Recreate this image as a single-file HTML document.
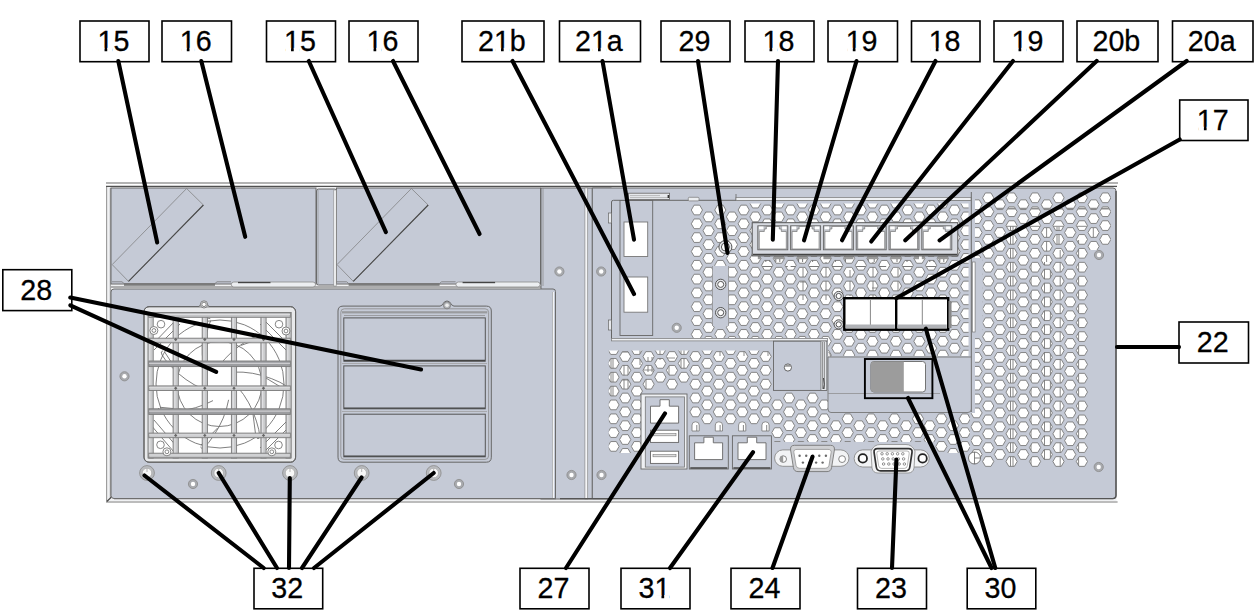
<!DOCTYPE html><html><head><meta charset="utf-8"><style>html,body{margin:0;padding:0;background:#fff;width:1254px;height:610px;overflow:hidden}svg{display:block}text{font-family:"Liberation Sans",sans-serif;font-size:30px;fill:#000;stroke:#000;stroke-width:0.3px}</style></head><body>
<svg width="1254" height="610" viewBox="0 0 1254 610">
<defs>
<clipPath id="cA"><path d="M689,203.6 H968.5 V356 H828 V338 H689 Z"/></clipPath>
<clipPath id="cB"><path d="M608.7,350.4 H828 V413 H970 V453 H935 V442 H690 V453 H608.7 Z"/></clipPath>
<clipPath id="cC"><path d="M975,191 H1111 V250 H1089 V472 H970.5 V413 H975 V335 H982.6 V258 H975 Z"/></clipPath>
</defs>
<line x1="106" y1="183.1" x2="1118" y2="183.1" stroke="#9a9a9a" stroke-width="1.5"/>
<rect x="106.5" y="186.5" width="1010" height="314.5" fill="#f0f1f3"/>
<path d="M106.6,186 V502" stroke="#9a9a9a" stroke-width="1.1"/>
<path d="M110.3,188 V498" stroke="#8a8a8a" stroke-width="0.9"/>
<path d="M106,502 H1117.6" stroke="#a6a6a6" stroke-width="1.5"/>
<path d="M106,186.4 H1117" stroke="#505050" stroke-width="1.2"/>
<path d="M106.8,501.5 L111.5,497" stroke="#444" stroke-width="1.1"/>
<rect x="111" y="188" width="205" height="96" fill="#c5cad6" stroke="#6a6a6a" stroke-width="1"/>
<rect x="336.5" y="188" width="204" height="96" fill="#c5cad6" stroke="#6a6a6a" stroke-width="1"/>
<rect x="316.5" y="189" width="20" height="96" rx="2" fill="#c5cad6" stroke="#6a6a6a" stroke-width="1"/>
<rect x="333.8" y="190" width="2.4" height="96" fill="#f4f5f7" stroke="#8a8a8a" stroke-width="0.6"/>
<path d="M318,190 V284" stroke="#8a8a8a" stroke-width="0.6"/>
<polygon points="186.6,188.5 203.4,205.0 128.5,281.4 112.2,264.6" fill="none" stroke="#7a7a7a" stroke-width="0.7"/>
<line x1="203.4" y1="205.0" x2="128.5" y2="281.4" stroke="#4a4a4a" stroke-width="1.1"/>
<polygon points="411.4,188.5 428.2,205.0 353.3,281.4 337.0,264.6" fill="none" stroke="#7a7a7a" stroke-width="0.7"/>
<line x1="428.2" y1="205.0" x2="353.3" y2="281.4" stroke="#4a4a4a" stroke-width="1.1"/>
<path d="M111,287 H541" stroke="#6a6a6a" stroke-width="1.2"/>
<path d="M112.0,281.8 H122.0 L124.0,283.5 H215.0 L217.0,281.8 H231.0" fill="none" stroke="#777" stroke-width="0.8"/>
<rect x="124.0" y="283.4" width="91" height="2.4" fill="#7a7a7a"/>
<rect x="231.3" y="282" width="84.2" height="5" rx="2.5" fill="#eceef1" stroke="#8a8a8a" stroke-width="0.8"/>
<rect x="238.0" y="281.9" width="32.5" height="1.3" fill="#444"/>
<path d="M336.6,281.8 H346.6 L348.6,283.5 H439.6 L441.6,281.8 H455.6" fill="none" stroke="#777" stroke-width="0.8"/>
<rect x="348.6" y="283.4" width="91" height="2.4" fill="#7a7a7a"/>
<rect x="455.9" y="282" width="84.2" height="5" rx="2.5" fill="#eceef1" stroke="#8a8a8a" stroke-width="0.8"/>
<rect x="462.6" y="281.9" width="32.5" height="1.3" fill="#444"/>
<rect x="541" y="188" width="70" height="311" fill="#c5cad6" stroke="#6a6a6a" stroke-width="1"/>
<rect x="584.9" y="188" width="2.8" height="311" fill="#f4f5f7" stroke="#8a8a8a" stroke-width="0.7"/>
<line x1="592.3" y1="188" x2="592.3" y2="499" stroke="#777" stroke-width="0.8"/>
<line x1="543" y1="188" x2="543" y2="286" stroke="#888" stroke-width="0.7"/>
<path d="M111,292 Q111,289 114,289 H553 Q555.5,289 555.5,291.5 V498.5 H114 Q111,498.5 111,495.5 Z" fill="#c5cad6" stroke="#6a6a6a" stroke-width="1"/>
<line x1="553.3" y1="292" x2="553.3" y2="498" stroke="#fff" stroke-width="1.2"/>
<line x1="552.6" y1="292" x2="552.6" y2="498" stroke="#999" stroke-width="0.6"/>
<path d="M592.3,188 H1113 Q1116,188 1116,191 V495.5 Q1116,498.6 1113,498.6 H592.3 Z" fill="#c5cad6" stroke="#6a6a6a" stroke-width="1"/>
<path d="M1116,191 V495.5 Q1116,498.6 1113,498.6 H560" fill="none" stroke="#555" stroke-width="1.4"/>
<path d="M114,498.6 H556" stroke="#6e6e6e" stroke-width="1.3"/>
<g clip-path="url(#cA)"><path id="hA" d="M691.3,196.2l2.80,-4.85h5.60l2.80,4.85l-2.80,4.85h-5.60zM691.3,210.0l2.80,-4.85h5.60l2.80,4.85l-2.80,4.85h-5.60zM691.3,223.8l2.80,-4.85h5.60l2.80,4.85l-2.80,4.85h-5.60zM691.3,237.6l2.80,-4.85h5.60l2.80,4.85l-2.80,4.85h-5.60zM691.3,251.5l2.80,-4.85h5.60l2.80,4.85l-2.80,4.85h-5.60zM691.3,265.3l2.80,-4.85h5.60l2.80,4.85l-2.80,4.85h-5.60zM691.3,279.1l2.80,-4.85h5.60l2.80,4.85l-2.80,4.85h-5.60zM691.3,292.9l2.80,-4.85h5.60l2.80,4.85l-2.80,4.85h-5.60zM691.3,306.7l2.80,-4.85h5.60l2.80,4.85l-2.80,4.85h-5.60zM691.3,320.6l2.80,-4.85h5.60l2.80,4.85l-2.80,4.85h-5.60zM691.3,334.4l2.80,-4.85h5.60l2.80,4.85l-2.80,4.85h-5.60zM691.3,348.2l2.80,-4.85h5.60l2.80,4.85l-2.80,4.85h-5.60zM691.3,362.0l2.80,-4.85h5.60l2.80,4.85l-2.80,4.85h-5.60zM703.0,216.9l2.80,-4.85h5.60l2.80,4.85l-2.80,4.85h-5.60zM703.0,230.7l2.80,-4.85h5.60l2.80,4.85l-2.80,4.85h-5.60zM703.0,244.6l2.80,-4.85h5.60l2.80,4.85l-2.80,4.85h-5.60zM703.0,258.4l2.80,-4.85h5.60l2.80,4.85l-2.80,4.85h-5.60zM703.0,272.2l2.80,-4.85h5.60l2.80,4.85l-2.80,4.85h-5.60zM703.0,286.0l2.80,-4.85h5.60l2.80,4.85l-2.80,4.85h-5.60zM703.0,299.8l2.80,-4.85h5.60l2.80,4.85l-2.80,4.85h-5.60zM703.0,313.7l2.80,-4.85h5.60l2.80,4.85l-2.80,4.85h-5.60zM703.0,327.5l2.80,-4.85h5.60l2.80,4.85l-2.80,4.85h-5.60zM703.0,341.3l2.80,-4.85h5.60l2.80,4.85l-2.80,4.85h-5.60zM703.0,355.1l2.80,-4.85h5.60l2.80,4.85l-2.80,4.85h-5.60zM714.7,196.2l2.80,-4.85h5.60l2.80,4.85l-2.80,4.85h-5.60zM714.7,210.0l2.80,-4.85h5.60l2.80,4.85l-2.80,4.85h-5.60zM714.7,223.8l2.80,-4.85h5.60l2.80,4.85l-2.80,4.85h-5.60zM714.7,237.6l2.80,-4.85h5.60l2.80,4.85l-2.80,4.85h-5.60zM714.7,251.5l2.80,-4.85h5.60l2.80,4.85l-2.80,4.85h-5.60zM714.7,265.3l2.80,-4.85h5.60l2.80,4.85l-2.80,4.85h-5.60zM714.7,320.6l2.80,-4.85h5.60l2.80,4.85l-2.80,4.85h-5.60zM714.7,334.4l2.80,-4.85h5.60l2.80,4.85l-2.80,4.85h-5.60zM714.7,348.2l2.80,-4.85h5.60l2.80,4.85l-2.80,4.85h-5.60zM714.7,362.0l2.80,-4.85h5.60l2.80,4.85l-2.80,4.85h-5.60zM726.4,216.9l2.80,-4.85h5.60l2.80,4.85l-2.80,4.85h-5.60zM726.4,230.7l2.80,-4.85h5.60l2.80,4.85l-2.80,4.85h-5.60zM726.4,244.6l2.80,-4.85h5.60l2.80,4.85l-2.80,4.85h-5.60zM726.4,258.4l2.80,-4.85h5.60l2.80,4.85l-2.80,4.85h-5.60zM726.4,272.2l2.80,-4.85h5.60l2.80,4.85l-2.80,4.85h-5.60zM726.4,286.0l2.80,-4.85h5.60l2.80,4.85l-2.80,4.85h-5.60zM726.4,299.8l2.80,-4.85h5.60l2.80,4.85l-2.80,4.85h-5.60zM726.4,313.7l2.80,-4.85h5.60l2.80,4.85l-2.80,4.85h-5.60zM726.4,327.5l2.80,-4.85h5.60l2.80,4.85l-2.80,4.85h-5.60zM726.4,341.3l2.80,-4.85h5.60l2.80,4.85l-2.80,4.85h-5.60zM726.4,355.1l2.80,-4.85h5.60l2.80,4.85l-2.80,4.85h-5.60zM738.1,196.2l2.80,-4.85h5.60l2.80,4.85l-2.80,4.85h-5.60zM738.1,210.0l2.80,-4.85h5.60l2.80,4.85l-2.80,4.85h-5.60zM738.1,223.8l2.80,-4.85h5.60l2.80,4.85l-2.80,4.85h-5.60zM738.1,237.6l2.80,-4.85h5.60l2.80,4.85l-2.80,4.85h-5.60zM738.1,251.5l2.80,-4.85h5.60l2.80,4.85l-2.80,4.85h-5.60zM738.1,265.3l2.80,-4.85h5.60l2.80,4.85l-2.80,4.85h-5.60zM738.1,279.1l2.80,-4.85h5.60l2.80,4.85l-2.80,4.85h-5.60zM738.1,292.9l2.80,-4.85h5.60l2.80,4.85l-2.80,4.85h-5.60zM738.1,306.7l2.80,-4.85h5.60l2.80,4.85l-2.80,4.85h-5.60zM738.1,320.6l2.80,-4.85h5.60l2.80,4.85l-2.80,4.85h-5.60zM738.1,334.4l2.80,-4.85h5.60l2.80,4.85l-2.80,4.85h-5.60zM738.1,348.2l2.80,-4.85h5.60l2.80,4.85l-2.80,4.85h-5.60zM738.1,362.0l2.80,-4.85h5.60l2.80,4.85l-2.80,4.85h-5.60zM749.8,189.3l2.80,-4.85h5.60l2.80,4.85l-2.80,4.85h-5.60zM749.8,203.1l2.80,-4.85h5.60l2.80,4.85l-2.80,4.85h-5.60zM749.8,216.9l2.80,-4.85h5.60l2.80,4.85l-2.80,4.85h-5.60zM749.8,230.7l2.80,-4.85h5.60l2.80,4.85l-2.80,4.85h-5.60zM749.8,244.6l2.80,-4.85h5.60l2.80,4.85l-2.80,4.85h-5.60zM749.8,258.4l2.80,-4.85h5.60l2.80,4.85l-2.80,4.85h-5.60zM749.8,272.2l2.80,-4.85h5.60l2.80,4.85l-2.80,4.85h-5.60zM749.8,286.0l2.80,-4.85h5.60l2.80,4.85l-2.80,4.85h-5.60zM749.8,299.8l2.80,-4.85h5.60l2.80,4.85l-2.80,4.85h-5.60zM749.8,313.7l2.80,-4.85h5.60l2.80,4.85l-2.80,4.85h-5.60zM749.8,327.5l2.80,-4.85h5.60l2.80,4.85l-2.80,4.85h-5.60zM749.8,341.3l2.80,-4.85h5.60l2.80,4.85l-2.80,4.85h-5.60zM749.8,355.1l2.80,-4.85h5.60l2.80,4.85l-2.80,4.85h-5.60zM761.6,196.2l2.80,-4.85h5.60l2.80,4.85l-2.80,4.85h-5.60zM761.6,210.0l2.80,-4.85h5.60l2.80,4.85l-2.80,4.85h-5.60zM761.6,223.8l2.80,-4.85h5.60l2.80,4.85l-2.80,4.85h-5.60zM761.6,237.6l2.80,-4.85h5.60l2.80,4.85l-2.80,4.85h-5.60zM761.6,251.5l2.80,-4.85h5.60l2.80,4.85l-2.80,4.85h-5.60zM761.6,265.3l2.80,-4.85h5.60l2.80,4.85l-2.80,4.85h-5.60zM761.6,279.1l2.80,-4.85h5.60l2.80,4.85l-2.80,4.85h-5.60zM761.6,292.9l2.80,-4.85h5.60l2.80,4.85l-2.80,4.85h-5.60zM761.6,306.7l2.80,-4.85h5.60l2.80,4.85l-2.80,4.85h-5.60zM761.6,320.6l2.80,-4.85h5.60l2.80,4.85l-2.80,4.85h-5.60zM761.6,334.4l2.80,-4.85h5.60l2.80,4.85l-2.80,4.85h-5.60zM761.6,348.2l2.80,-4.85h5.60l2.80,4.85l-2.80,4.85h-5.60zM761.6,362.0l2.80,-4.85h5.60l2.80,4.85l-2.80,4.85h-5.60zM773.3,189.3l2.80,-4.85h5.60l2.80,4.85l-2.80,4.85h-5.60zM773.3,203.1l2.80,-4.85h5.60l2.80,4.85l-2.80,4.85h-5.60zM773.3,216.9l2.80,-4.85h5.60l2.80,4.85l-2.80,4.85h-5.60zM773.3,230.7l2.80,-4.85h5.60l2.80,4.85l-2.80,4.85h-5.60zM773.3,244.6l2.80,-4.85h5.60l2.80,4.85l-2.80,4.85h-5.60zM773.3,258.4l2.80,-4.85h5.60l2.80,4.85l-2.80,4.85h-5.60zM773.3,272.2l2.80,-4.85h5.60l2.80,4.85l-2.80,4.85h-5.60zM773.3,286.0l2.80,-4.85h5.60l2.80,4.85l-2.80,4.85h-5.60zM773.3,299.8l2.80,-4.85h5.60l2.80,4.85l-2.80,4.85h-5.60zM773.3,313.7l2.80,-4.85h5.60l2.80,4.85l-2.80,4.85h-5.60zM773.3,327.5l2.80,-4.85h5.60l2.80,4.85l-2.80,4.85h-5.60zM773.3,341.3l2.80,-4.85h5.60l2.80,4.85l-2.80,4.85h-5.60zM773.3,355.1l2.80,-4.85h5.60l2.80,4.85l-2.80,4.85h-5.60zM785.0,196.2l2.80,-4.85h5.60l2.80,4.85l-2.80,4.85h-5.60zM785.0,210.0l2.80,-4.85h5.60l2.80,4.85l-2.80,4.85h-5.60zM785.0,223.8l2.80,-4.85h5.60l2.80,4.85l-2.80,4.85h-5.60zM785.0,237.6l2.80,-4.85h5.60l2.80,4.85l-2.80,4.85h-5.60zM785.0,251.5l2.80,-4.85h5.60l2.80,4.85l-2.80,4.85h-5.60zM785.0,265.3l2.80,-4.85h5.60l2.80,4.85l-2.80,4.85h-5.60zM785.0,279.1l2.80,-4.85h5.60l2.80,4.85l-2.80,4.85h-5.60zM785.0,292.9l2.80,-4.85h5.60l2.80,4.85l-2.80,4.85h-5.60zM785.0,306.7l2.80,-4.85h5.60l2.80,4.85l-2.80,4.85h-5.60zM785.0,320.6l2.80,-4.85h5.60l2.80,4.85l-2.80,4.85h-5.60zM785.0,334.4l2.80,-4.85h5.60l2.80,4.85l-2.80,4.85h-5.60zM785.0,348.2l2.80,-4.85h5.60l2.80,4.85l-2.80,4.85h-5.60zM785.0,362.0l2.80,-4.85h5.60l2.80,4.85l-2.80,4.85h-5.60zM796.7,189.3l2.80,-4.85h5.60l2.80,4.85l-2.80,4.85h-5.60zM796.7,203.1l2.80,-4.85h5.60l2.80,4.85l-2.80,4.85h-5.60zM796.7,216.9l2.80,-4.85h5.60l2.80,4.85l-2.80,4.85h-5.60zM796.7,230.7l2.80,-4.85h5.60l2.80,4.85l-2.80,4.85h-5.60zM796.7,244.6l2.80,-4.85h5.60l2.80,4.85l-2.80,4.85h-5.60zM796.7,258.4l2.80,-4.85h5.60l2.80,4.85l-2.80,4.85h-5.60zM796.7,272.2l2.80,-4.85h5.60l2.80,4.85l-2.80,4.85h-5.60zM796.7,286.0l2.80,-4.85h5.60l2.80,4.85l-2.80,4.85h-5.60zM796.7,299.8l2.80,-4.85h5.60l2.80,4.85l-2.80,4.85h-5.60zM796.7,313.7l2.80,-4.85h5.60l2.80,4.85l-2.80,4.85h-5.60zM796.7,327.5l2.80,-4.85h5.60l2.80,4.85l-2.80,4.85h-5.60zM796.7,341.3l2.80,-4.85h5.60l2.80,4.85l-2.80,4.85h-5.60zM796.7,355.1l2.80,-4.85h5.60l2.80,4.85l-2.80,4.85h-5.60zM808.4,196.2l2.80,-4.85h5.60l2.80,4.85l-2.80,4.85h-5.60zM808.4,210.0l2.80,-4.85h5.60l2.80,4.85l-2.80,4.85h-5.60zM808.4,223.8l2.80,-4.85h5.60l2.80,4.85l-2.80,4.85h-5.60zM808.4,237.6l2.80,-4.85h5.60l2.80,4.85l-2.80,4.85h-5.60zM808.4,251.5l2.80,-4.85h5.60l2.80,4.85l-2.80,4.85h-5.60zM808.4,265.3l2.80,-4.85h5.60l2.80,4.85l-2.80,4.85h-5.60zM808.4,279.1l2.80,-4.85h5.60l2.80,4.85l-2.80,4.85h-5.60zM808.4,292.9l2.80,-4.85h5.60l2.80,4.85l-2.80,4.85h-5.60zM808.4,306.7l2.80,-4.85h5.60l2.80,4.85l-2.80,4.85h-5.60zM808.4,320.6l2.80,-4.85h5.60l2.80,4.85l-2.80,4.85h-5.60zM808.4,334.4l2.80,-4.85h5.60l2.80,4.85l-2.80,4.85h-5.60zM808.4,348.2l2.80,-4.85h5.60l2.80,4.85l-2.80,4.85h-5.60zM808.4,362.0l2.80,-4.85h5.60l2.80,4.85l-2.80,4.85h-5.60zM820.1,189.3l2.80,-4.85h5.60l2.80,4.85l-2.80,4.85h-5.60zM820.1,203.1l2.80,-4.85h5.60l2.80,4.85l-2.80,4.85h-5.60zM820.1,216.9l2.80,-4.85h5.60l2.80,4.85l-2.80,4.85h-5.60zM820.1,230.7l2.80,-4.85h5.60l2.80,4.85l-2.80,4.85h-5.60zM820.1,244.6l2.80,-4.85h5.60l2.80,4.85l-2.80,4.85h-5.60zM820.1,258.4l2.80,-4.85h5.60l2.80,4.85l-2.80,4.85h-5.60zM820.1,272.2l2.80,-4.85h5.60l2.80,4.85l-2.80,4.85h-5.60zM820.1,286.0l2.80,-4.85h5.60l2.80,4.85l-2.80,4.85h-5.60zM820.1,299.8l2.80,-4.85h5.60l2.80,4.85l-2.80,4.85h-5.60zM820.1,313.7l2.80,-4.85h5.60l2.80,4.85l-2.80,4.85h-5.60zM820.1,327.5l2.80,-4.85h5.60l2.80,4.85l-2.80,4.85h-5.60zM820.1,341.3l2.80,-4.85h5.60l2.80,4.85l-2.80,4.85h-5.60zM820.1,355.1l2.80,-4.85h5.60l2.80,4.85l-2.80,4.85h-5.60zM831.8,196.2l2.80,-4.85h5.60l2.80,4.85l-2.80,4.85h-5.60zM831.8,210.0l2.80,-4.85h5.60l2.80,4.85l-2.80,4.85h-5.60zM831.8,223.8l2.80,-4.85h5.60l2.80,4.85l-2.80,4.85h-5.60zM831.8,237.6l2.80,-4.85h5.60l2.80,4.85l-2.80,4.85h-5.60zM831.8,251.5l2.80,-4.85h5.60l2.80,4.85l-2.80,4.85h-5.60zM831.8,265.3l2.80,-4.85h5.60l2.80,4.85l-2.80,4.85h-5.60zM831.8,279.1l2.80,-4.85h5.60l2.80,4.85l-2.80,4.85h-5.60zM831.8,292.9l2.80,-4.85h5.60l2.80,4.85l-2.80,4.85h-5.60zM831.8,306.7l2.80,-4.85h5.60l2.80,4.85l-2.80,4.85h-5.60zM831.8,320.6l2.80,-4.85h5.60l2.80,4.85l-2.80,4.85h-5.60zM831.8,334.4l2.80,-4.85h5.60l2.80,4.85l-2.80,4.85h-5.60zM831.8,348.2l2.80,-4.85h5.60l2.80,4.85l-2.80,4.85h-5.60zM831.8,362.0l2.80,-4.85h5.60l2.80,4.85l-2.80,4.85h-5.60zM843.5,189.3l2.80,-4.85h5.60l2.80,4.85l-2.80,4.85h-5.60zM843.5,203.1l2.80,-4.85h5.60l2.80,4.85l-2.80,4.85h-5.60zM843.5,216.9l2.80,-4.85h5.60l2.80,4.85l-2.80,4.85h-5.60zM843.5,230.7l2.80,-4.85h5.60l2.80,4.85l-2.80,4.85h-5.60zM843.5,244.6l2.80,-4.85h5.60l2.80,4.85l-2.80,4.85h-5.60zM843.5,258.4l2.80,-4.85h5.60l2.80,4.85l-2.80,4.85h-5.60zM843.5,272.2l2.80,-4.85h5.60l2.80,4.85l-2.80,4.85h-5.60zM843.5,286.0l2.80,-4.85h5.60l2.80,4.85l-2.80,4.85h-5.60zM843.5,299.8l2.80,-4.85h5.60l2.80,4.85l-2.80,4.85h-5.60zM843.5,313.7l2.80,-4.85h5.60l2.80,4.85l-2.80,4.85h-5.60zM843.5,327.5l2.80,-4.85h5.60l2.80,4.85l-2.80,4.85h-5.60zM843.5,341.3l2.80,-4.85h5.60l2.80,4.85l-2.80,4.85h-5.60zM843.5,355.1l2.80,-4.85h5.60l2.80,4.85l-2.80,4.85h-5.60zM855.2,196.2l2.80,-4.85h5.60l2.80,4.85l-2.80,4.85h-5.60zM855.2,210.0l2.80,-4.85h5.60l2.80,4.85l-2.80,4.85h-5.60zM855.2,223.8l2.80,-4.85h5.60l2.80,4.85l-2.80,4.85h-5.60zM855.2,237.6l2.80,-4.85h5.60l2.80,4.85l-2.80,4.85h-5.60zM855.2,251.5l2.80,-4.85h5.60l2.80,4.85l-2.80,4.85h-5.60zM855.2,265.3l2.80,-4.85h5.60l2.80,4.85l-2.80,4.85h-5.60zM855.2,279.1l2.80,-4.85h5.60l2.80,4.85l-2.80,4.85h-5.60zM855.2,292.9l2.80,-4.85h5.60l2.80,4.85l-2.80,4.85h-5.60zM855.2,306.7l2.80,-4.85h5.60l2.80,4.85l-2.80,4.85h-5.60zM855.2,320.6l2.80,-4.85h5.60l2.80,4.85l-2.80,4.85h-5.60zM855.2,334.4l2.80,-4.85h5.60l2.80,4.85l-2.80,4.85h-5.60zM855.2,348.2l2.80,-4.85h5.60l2.80,4.85l-2.80,4.85h-5.60zM855.2,362.0l2.80,-4.85h5.60l2.80,4.85l-2.80,4.85h-5.60zM866.9,189.3l2.80,-4.85h5.60l2.80,4.85l-2.80,4.85h-5.60zM866.9,203.1l2.80,-4.85h5.60l2.80,4.85l-2.80,4.85h-5.60zM866.9,216.9l2.80,-4.85h5.60l2.80,4.85l-2.80,4.85h-5.60zM866.9,230.7l2.80,-4.85h5.60l2.80,4.85l-2.80,4.85h-5.60zM866.9,244.6l2.80,-4.85h5.60l2.80,4.85l-2.80,4.85h-5.60zM866.9,258.4l2.80,-4.85h5.60l2.80,4.85l-2.80,4.85h-5.60zM866.9,272.2l2.80,-4.85h5.60l2.80,4.85l-2.80,4.85h-5.60zM866.9,286.0l2.80,-4.85h5.60l2.80,4.85l-2.80,4.85h-5.60zM866.9,299.8l2.80,-4.85h5.60l2.80,4.85l-2.80,4.85h-5.60zM866.9,313.7l2.80,-4.85h5.60l2.80,4.85l-2.80,4.85h-5.60zM866.9,327.5l2.80,-4.85h5.60l2.80,4.85l-2.80,4.85h-5.60zM866.9,341.3l2.80,-4.85h5.60l2.80,4.85l-2.80,4.85h-5.60zM866.9,355.1l2.80,-4.85h5.60l2.80,4.85l-2.80,4.85h-5.60zM878.7,196.2l2.80,-4.85h5.60l2.80,4.85l-2.80,4.85h-5.60zM878.7,210.0l2.80,-4.85h5.60l2.80,4.85l-2.80,4.85h-5.60zM878.7,223.8l2.80,-4.85h5.60l2.80,4.85l-2.80,4.85h-5.60zM878.7,237.6l2.80,-4.85h5.60l2.80,4.85l-2.80,4.85h-5.60zM878.7,251.5l2.80,-4.85h5.60l2.80,4.85l-2.80,4.85h-5.60zM878.7,265.3l2.80,-4.85h5.60l2.80,4.85l-2.80,4.85h-5.60zM878.7,279.1l2.80,-4.85h5.60l2.80,4.85l-2.80,4.85h-5.60zM878.7,292.9l2.80,-4.85h5.60l2.80,4.85l-2.80,4.85h-5.60zM878.7,306.7l2.80,-4.85h5.60l2.80,4.85l-2.80,4.85h-5.60zM878.7,320.6l2.80,-4.85h5.60l2.80,4.85l-2.80,4.85h-5.60zM878.7,334.4l2.80,-4.85h5.60l2.80,4.85l-2.80,4.85h-5.60zM878.7,348.2l2.80,-4.85h5.60l2.80,4.85l-2.80,4.85h-5.60zM878.7,362.0l2.80,-4.85h5.60l2.80,4.85l-2.80,4.85h-5.60zM890.4,189.3l2.80,-4.85h5.60l2.80,4.85l-2.80,4.85h-5.60zM890.4,203.1l2.80,-4.85h5.60l2.80,4.85l-2.80,4.85h-5.60zM890.4,216.9l2.80,-4.85h5.60l2.80,4.85l-2.80,4.85h-5.60zM890.4,230.7l2.80,-4.85h5.60l2.80,4.85l-2.80,4.85h-5.60zM890.4,244.6l2.80,-4.85h5.60l2.80,4.85l-2.80,4.85h-5.60zM890.4,258.4l2.80,-4.85h5.60l2.80,4.85l-2.80,4.85h-5.60zM890.4,272.2l2.80,-4.85h5.60l2.80,4.85l-2.80,4.85h-5.60zM890.4,286.0l2.80,-4.85h5.60l2.80,4.85l-2.80,4.85h-5.60zM890.4,299.8l2.80,-4.85h5.60l2.80,4.85l-2.80,4.85h-5.60zM890.4,313.7l2.80,-4.85h5.60l2.80,4.85l-2.80,4.85h-5.60zM890.4,327.5l2.80,-4.85h5.60l2.80,4.85l-2.80,4.85h-5.60zM890.4,341.3l2.80,-4.85h5.60l2.80,4.85l-2.80,4.85h-5.60zM890.4,355.1l2.80,-4.85h5.60l2.80,4.85l-2.80,4.85h-5.60zM902.1,196.2l2.80,-4.85h5.60l2.80,4.85l-2.80,4.85h-5.60zM902.1,210.0l2.80,-4.85h5.60l2.80,4.85l-2.80,4.85h-5.60zM902.1,223.8l2.80,-4.85h5.60l2.80,4.85l-2.80,4.85h-5.60zM902.1,237.6l2.80,-4.85h5.60l2.80,4.85l-2.80,4.85h-5.60zM902.1,251.5l2.80,-4.85h5.60l2.80,4.85l-2.80,4.85h-5.60zM902.1,265.3l2.80,-4.85h5.60l2.80,4.85l-2.80,4.85h-5.60zM902.1,279.1l2.80,-4.85h5.60l2.80,4.85l-2.80,4.85h-5.60zM902.1,292.9l2.80,-4.85h5.60l2.80,4.85l-2.80,4.85h-5.60zM902.1,306.7l2.80,-4.85h5.60l2.80,4.85l-2.80,4.85h-5.60zM902.1,320.6l2.80,-4.85h5.60l2.80,4.85l-2.80,4.85h-5.60zM902.1,334.4l2.80,-4.85h5.60l2.80,4.85l-2.80,4.85h-5.60zM902.1,348.2l2.80,-4.85h5.60l2.80,4.85l-2.80,4.85h-5.60zM902.1,362.0l2.80,-4.85h5.60l2.80,4.85l-2.80,4.85h-5.60zM913.8,189.3l2.80,-4.85h5.60l2.80,4.85l-2.80,4.85h-5.60zM913.8,203.1l2.80,-4.85h5.60l2.80,4.85l-2.80,4.85h-5.60zM913.8,216.9l2.80,-4.85h5.60l2.80,4.85l-2.80,4.85h-5.60zM913.8,230.7l2.80,-4.85h5.60l2.80,4.85l-2.80,4.85h-5.60zM913.8,244.6l2.80,-4.85h5.60l2.80,4.85l-2.80,4.85h-5.60zM913.8,258.4l2.80,-4.85h5.60l2.80,4.85l-2.80,4.85h-5.60zM913.8,272.2l2.80,-4.85h5.60l2.80,4.85l-2.80,4.85h-5.60zM913.8,286.0l2.80,-4.85h5.60l2.80,4.85l-2.80,4.85h-5.60zM913.8,299.8l2.80,-4.85h5.60l2.80,4.85l-2.80,4.85h-5.60zM913.8,313.7l2.80,-4.85h5.60l2.80,4.85l-2.80,4.85h-5.60zM913.8,327.5l2.80,-4.85h5.60l2.80,4.85l-2.80,4.85h-5.60zM913.8,341.3l2.80,-4.85h5.60l2.80,4.85l-2.80,4.85h-5.60zM913.8,355.1l2.80,-4.85h5.60l2.80,4.85l-2.80,4.85h-5.60zM925.5,196.2l2.80,-4.85h5.60l2.80,4.85l-2.80,4.85h-5.60zM925.5,210.0l2.80,-4.85h5.60l2.80,4.85l-2.80,4.85h-5.60zM925.5,223.8l2.80,-4.85h5.60l2.80,4.85l-2.80,4.85h-5.60zM925.5,237.6l2.80,-4.85h5.60l2.80,4.85l-2.80,4.85h-5.60zM925.5,251.5l2.80,-4.85h5.60l2.80,4.85l-2.80,4.85h-5.60zM925.5,265.3l2.80,-4.85h5.60l2.80,4.85l-2.80,4.85h-5.60zM925.5,279.1l2.80,-4.85h5.60l2.80,4.85l-2.80,4.85h-5.60zM925.5,292.9l2.80,-4.85h5.60l2.80,4.85l-2.80,4.85h-5.60zM925.5,306.7l2.80,-4.85h5.60l2.80,4.85l-2.80,4.85h-5.60zM925.5,320.6l2.80,-4.85h5.60l2.80,4.85l-2.80,4.85h-5.60zM925.5,334.4l2.80,-4.85h5.60l2.80,4.85l-2.80,4.85h-5.60zM925.5,348.2l2.80,-4.85h5.60l2.80,4.85l-2.80,4.85h-5.60zM925.5,362.0l2.80,-4.85h5.60l2.80,4.85l-2.80,4.85h-5.60zM937.2,189.3l2.80,-4.85h5.60l2.80,4.85l-2.80,4.85h-5.60zM937.2,203.1l2.80,-4.85h5.60l2.80,4.85l-2.80,4.85h-5.60zM937.2,216.9l2.80,-4.85h5.60l2.80,4.85l-2.80,4.85h-5.60zM937.2,230.7l2.80,-4.85h5.60l2.80,4.85l-2.80,4.85h-5.60zM937.2,244.6l2.80,-4.85h5.60l2.80,4.85l-2.80,4.85h-5.60zM937.2,258.4l2.80,-4.85h5.60l2.80,4.85l-2.80,4.85h-5.60zM937.2,272.2l2.80,-4.85h5.60l2.80,4.85l-2.80,4.85h-5.60zM937.2,286.0l2.80,-4.85h5.60l2.80,4.85l-2.80,4.85h-5.60zM937.2,299.8l2.80,-4.85h5.60l2.80,4.85l-2.80,4.85h-5.60zM937.2,313.7l2.80,-4.85h5.60l2.80,4.85l-2.80,4.85h-5.60zM937.2,327.5l2.80,-4.85h5.60l2.80,4.85l-2.80,4.85h-5.60zM937.2,341.3l2.80,-4.85h5.60l2.80,4.85l-2.80,4.85h-5.60zM937.2,355.1l2.80,-4.85h5.60l2.80,4.85l-2.80,4.85h-5.60zM948.9,196.2l2.80,-4.85h5.60l2.80,4.85l-2.80,4.85h-5.60zM948.9,210.0l2.80,-4.85h5.60l2.80,4.85l-2.80,4.85h-5.60zM948.9,223.8l2.80,-4.85h5.60l2.80,4.85l-2.80,4.85h-5.60zM948.9,237.6l2.80,-4.85h5.60l2.80,4.85l-2.80,4.85h-5.60zM948.9,251.5l2.80,-4.85h5.60l2.80,4.85l-2.80,4.85h-5.60zM948.9,265.3l2.80,-4.85h5.60l2.80,4.85l-2.80,4.85h-5.60zM948.9,279.1l2.80,-4.85h5.60l2.80,4.85l-2.80,4.85h-5.60zM948.9,292.9l2.80,-4.85h5.60l2.80,4.85l-2.80,4.85h-5.60zM948.9,306.7l2.80,-4.85h5.60l2.80,4.85l-2.80,4.85h-5.60zM948.9,320.6l2.80,-4.85h5.60l2.80,4.85l-2.80,4.85h-5.60zM948.9,334.4l2.80,-4.85h5.60l2.80,4.85l-2.80,4.85h-5.60zM948.9,348.2l2.80,-4.85h5.60l2.80,4.85l-2.80,4.85h-5.60zM948.9,362.0l2.80,-4.85h5.60l2.80,4.85l-2.80,4.85h-5.60zM960.6,189.3l2.80,-4.85h5.60l2.80,4.85l-2.80,4.85h-5.60zM960.6,203.1l2.80,-4.85h5.60l2.80,4.85l-2.80,4.85h-5.60zM960.6,216.9l2.80,-4.85h5.60l2.80,4.85l-2.80,4.85h-5.60zM960.6,230.7l2.80,-4.85h5.60l2.80,4.85l-2.80,4.85h-5.60zM960.6,244.6l2.80,-4.85h5.60l2.80,4.85l-2.80,4.85h-5.60zM960.6,258.4l2.80,-4.85h5.60l2.80,4.85l-2.80,4.85h-5.60zM960.6,272.2l2.80,-4.85h5.60l2.80,4.85l-2.80,4.85h-5.60zM960.6,286.0l2.80,-4.85h5.60l2.80,4.85l-2.80,4.85h-5.60zM960.6,299.8l2.80,-4.85h5.60l2.80,4.85l-2.80,4.85h-5.60zM960.6,313.7l2.80,-4.85h5.60l2.80,4.85l-2.80,4.85h-5.60zM960.6,327.5l2.80,-4.85h5.60l2.80,4.85l-2.80,4.85h-5.60zM960.6,341.3l2.80,-4.85h5.60l2.80,4.85l-2.80,4.85h-5.60zM960.6,355.1l2.80,-4.85h5.60l2.80,4.85l-2.80,4.85h-5.60z" fill="#fff" stroke="#7a7a7a" stroke-width="0.9"/>
<clipPath id="inA"><use href="#hA"/></clipPath>
<g clip-path="url(#inA)"><rect x="757.8" y="256" width="30" height="3.2" fill="#9a9a9a"/><path d="M765.8,259 v3 M769.8,259 v3 M775.8,259 v3 M779.8,259 v3" stroke="#555" stroke-width="0.8"/><path d="M757.8,266.5 H787.8" stroke="#777" stroke-width="1"/><rect x="790.6" y="256" width="30" height="3.2" fill="#9a9a9a"/><path d="M798.6,259 v3 M802.6,259 v3 M808.6,259 v3 M812.6,259 v3" stroke="#555" stroke-width="0.8"/><path d="M790.6,266.5 H820.6" stroke="#777" stroke-width="1"/><rect x="823.4" y="256" width="30" height="3.2" fill="#9a9a9a"/><path d="M831.4,259 v3 M835.4,259 v3 M841.4,259 v3 M845.4,259 v3" stroke="#555" stroke-width="0.8"/><path d="M823.4,266.5 H853.4" stroke="#777" stroke-width="1"/><rect x="856.2" y="256" width="30" height="3.2" fill="#9a9a9a"/><path d="M864.2,259 v3 M868.2,259 v3 M874.2,259 v3 M878.2,259 v3" stroke="#555" stroke-width="0.8"/><path d="M856.2,266.5 H886.2" stroke="#777" stroke-width="1"/><rect x="889.0" y="256" width="30" height="3.2" fill="#9a9a9a"/><path d="M897.0,259 v3 M901.0,259 v3 M907.0,259 v3 M911.0,259 v3" stroke="#555" stroke-width="0.8"/><path d="M889.0,266.5 H919.0" stroke="#777" stroke-width="1"/><rect x="921.8" y="256" width="30" height="3.2" fill="#9a9a9a"/><path d="M929.8,259 v3 M933.8,259 v3 M939.8,259 v3 M943.8,259 v3" stroke="#555" stroke-width="0.8"/><path d="M921.8,266.5 H951.8" stroke="#777" stroke-width="1"/><line x1="803.0" y1="268" x2="803.0" y2="300" stroke="#6a6a6a" stroke-width="0.8"/><line x1="809.0" y1="268" x2="809.0" y2="300" stroke="#6a6a6a" stroke-width="0.8"/><line x1="826.0" y1="262" x2="826.0" y2="300" stroke="#6a6a6a" stroke-width="0.8"/><line x1="832.0" y1="262" x2="832.0" y2="300" stroke="#6a6a6a" stroke-width="0.8"/><line x1="850.0" y1="270" x2="850.0" y2="296" stroke="#6a6a6a" stroke-width="0.8"/><line x1="856.0" y1="270" x2="856.0" y2="296" stroke="#6a6a6a" stroke-width="0.8"/><line x1="873.0" y1="262" x2="873.0" y2="300" stroke="#6a6a6a" stroke-width="0.8"/><line x1="879.0" y1="262" x2="879.0" y2="300" stroke="#6a6a6a" stroke-width="0.8"/><line x1="898.0" y1="268" x2="898.0" y2="294" stroke="#6a6a6a" stroke-width="0.8"/><line x1="903.0" y1="268" x2="903.0" y2="294" stroke="#6a6a6a" stroke-width="0.8"/><line x1="761.0" y1="262" x2="761.0" y2="300" stroke="#6a6a6a" stroke-width="0.8"/><line x1="785.0" y1="270" x2="785.0" y2="300" stroke="#6a6a6a" stroke-width="0.8"/><path d="M800.0,282.0 h8" stroke="#777" stroke-width="0.8"/><path d="M825.0,290.0 h8" stroke="#777" stroke-width="0.8"/><path d="M848.0,278.0 h8" stroke="#777" stroke-width="0.8"/><path d="M872.0,288.0 h8" stroke="#777" stroke-width="0.8"/><path d="M895.0,280.0 h8" stroke="#777" stroke-width="0.8"/></g>
</g>
<rect x="712.5" y="266" width="16" height="60" fill="#c5cad6"/>
<path d="M712.5,266 V326 M728.5,266 V326" stroke="#8a8a8a" stroke-width="0.7"/>
<g clip-path="url(#cB)"><path id="hB" d="M607.9,349.6l2.80,-4.85h5.60l2.80,4.85l-2.80,4.85h-5.60zM607.9,363.4l2.80,-4.85h5.60l2.80,4.85l-2.80,4.85h-5.60zM607.9,377.2l2.80,-4.85h5.60l2.80,4.85l-2.80,4.85h-5.60zM607.9,391.1l2.80,-4.85h5.60l2.80,4.85l-2.80,4.85h-5.60zM607.9,404.9l2.80,-4.85h5.60l2.80,4.85l-2.80,4.85h-5.60zM607.9,418.8l2.80,-4.85h5.60l2.80,4.85l-2.80,4.85h-5.60zM607.9,432.6l2.80,-4.85h5.60l2.80,4.85l-2.80,4.85h-5.60zM607.9,446.4l2.80,-4.85h5.60l2.80,4.85l-2.80,4.85h-5.60zM619.6,342.7l2.80,-4.85h5.60l2.80,4.85l-2.80,4.85h-5.60zM619.6,356.5l2.80,-4.85h5.60l2.80,4.85l-2.80,4.85h-5.60zM619.6,370.3l2.80,-4.85h5.60l2.80,4.85l-2.80,4.85h-5.60zM619.6,384.2l2.80,-4.85h5.60l2.80,4.85l-2.80,4.85h-5.60zM619.6,398.0l2.80,-4.85h5.60l2.80,4.85l-2.80,4.85h-5.60zM619.6,411.9l2.80,-4.85h5.60l2.80,4.85l-2.80,4.85h-5.60zM619.6,425.7l2.80,-4.85h5.60l2.80,4.85l-2.80,4.85h-5.60zM619.6,439.5l2.80,-4.85h5.60l2.80,4.85l-2.80,4.85h-5.60zM619.6,453.4l2.80,-4.85h5.60l2.80,4.85l-2.80,4.85h-5.60zM631.3,349.6l2.80,-4.85h5.60l2.80,4.85l-2.80,4.85h-5.60zM631.3,363.4l2.80,-4.85h5.60l2.80,4.85l-2.80,4.85h-5.60zM631.3,377.2l2.80,-4.85h5.60l2.80,4.85l-2.80,4.85h-5.60zM631.3,391.1l2.80,-4.85h5.60l2.80,4.85l-2.80,4.85h-5.60zM631.3,404.9l2.80,-4.85h5.60l2.80,4.85l-2.80,4.85h-5.60zM631.3,418.8l2.80,-4.85h5.60l2.80,4.85l-2.80,4.85h-5.60zM631.3,432.6l2.80,-4.85h5.60l2.80,4.85l-2.80,4.85h-5.60zM631.3,446.4l2.80,-4.85h5.60l2.80,4.85l-2.80,4.85h-5.60zM643.0,342.7l2.80,-4.85h5.60l2.80,4.85l-2.80,4.85h-5.60zM643.0,356.5l2.80,-4.85h5.60l2.80,4.85l-2.80,4.85h-5.60zM643.0,370.3l2.80,-4.85h5.60l2.80,4.85l-2.80,4.85h-5.60zM643.0,384.2l2.80,-4.85h5.60l2.80,4.85l-2.80,4.85h-5.60zM654.7,349.6l2.80,-4.85h5.60l2.80,4.85l-2.80,4.85h-5.60zM654.7,363.4l2.80,-4.85h5.60l2.80,4.85l-2.80,4.85h-5.60zM654.7,377.2l2.80,-4.85h5.60l2.80,4.85l-2.80,4.85h-5.60zM666.4,342.7l2.80,-4.85h5.60l2.80,4.85l-2.80,4.85h-5.60zM666.4,356.5l2.80,-4.85h5.60l2.80,4.85l-2.80,4.85h-5.60zM666.4,370.3l2.80,-4.85h5.60l2.80,4.85l-2.80,4.85h-5.60zM666.4,384.2l2.80,-4.85h5.60l2.80,4.85l-2.80,4.85h-5.60zM678.2,349.6l2.80,-4.85h5.60l2.80,4.85l-2.80,4.85h-5.60zM678.2,363.4l2.80,-4.85h5.60l2.80,4.85l-2.80,4.85h-5.60zM678.2,377.2l2.80,-4.85h5.60l2.80,4.85l-2.80,4.85h-5.60zM689.9,342.7l2.80,-4.85h5.60l2.80,4.85l-2.80,4.85h-5.60zM689.9,356.5l2.80,-4.85h5.60l2.80,4.85l-2.80,4.85h-5.60zM689.9,370.3l2.80,-4.85h5.60l2.80,4.85l-2.80,4.85h-5.60zM689.9,384.2l2.80,-4.85h5.60l2.80,4.85l-2.80,4.85h-5.60zM689.9,398.0l2.80,-4.85h5.60l2.80,4.85l-2.80,4.85h-5.60zM689.9,411.9l2.80,-4.85h5.60l2.80,4.85l-2.80,4.85h-5.60zM701.6,349.6l2.80,-4.85h5.60l2.80,4.85l-2.80,4.85h-5.60zM701.6,363.4l2.80,-4.85h5.60l2.80,4.85l-2.80,4.85h-5.60zM701.6,377.2l2.80,-4.85h5.60l2.80,4.85l-2.80,4.85h-5.60zM701.6,391.1l2.80,-4.85h5.60l2.80,4.85l-2.80,4.85h-5.60zM701.6,404.9l2.80,-4.85h5.60l2.80,4.85l-2.80,4.85h-5.60zM701.6,418.8l2.80,-4.85h5.60l2.80,4.85l-2.80,4.85h-5.60zM713.3,342.7l2.80,-4.85h5.60l2.80,4.85l-2.80,4.85h-5.60zM713.3,356.5l2.80,-4.85h5.60l2.80,4.85l-2.80,4.85h-5.60zM713.3,370.3l2.80,-4.85h5.60l2.80,4.85l-2.80,4.85h-5.60zM713.3,384.2l2.80,-4.85h5.60l2.80,4.85l-2.80,4.85h-5.60zM713.3,398.0l2.80,-4.85h5.60l2.80,4.85l-2.80,4.85h-5.60zM713.3,411.9l2.80,-4.85h5.60l2.80,4.85l-2.80,4.85h-5.60zM725.0,349.6l2.80,-4.85h5.60l2.80,4.85l-2.80,4.85h-5.60zM725.0,363.4l2.80,-4.85h5.60l2.80,4.85l-2.80,4.85h-5.60zM725.0,377.2l2.80,-4.85h5.60l2.80,4.85l-2.80,4.85h-5.60zM725.0,391.1l2.80,-4.85h5.60l2.80,4.85l-2.80,4.85h-5.60zM725.0,404.9l2.80,-4.85h5.60l2.80,4.85l-2.80,4.85h-5.60zM725.0,418.8l2.80,-4.85h5.60l2.80,4.85l-2.80,4.85h-5.60zM736.7,342.7l2.80,-4.85h5.60l2.80,4.85l-2.80,4.85h-5.60zM736.7,356.5l2.80,-4.85h5.60l2.80,4.85l-2.80,4.85h-5.60zM736.7,370.3l2.80,-4.85h5.60l2.80,4.85l-2.80,4.85h-5.60zM736.7,384.2l2.80,-4.85h5.60l2.80,4.85l-2.80,4.85h-5.60zM736.7,398.0l2.80,-4.85h5.60l2.80,4.85l-2.80,4.85h-5.60zM736.7,411.9l2.80,-4.85h5.60l2.80,4.85l-2.80,4.85h-5.60zM748.4,349.6l2.80,-4.85h5.60l2.80,4.85l-2.80,4.85h-5.60zM748.4,363.4l2.80,-4.85h5.60l2.80,4.85l-2.80,4.85h-5.60zM748.4,377.2l2.80,-4.85h5.60l2.80,4.85l-2.80,4.85h-5.60zM748.4,391.1l2.80,-4.85h5.60l2.80,4.85l-2.80,4.85h-5.60zM748.4,404.9l2.80,-4.85h5.60l2.80,4.85l-2.80,4.85h-5.60zM748.4,418.8l2.80,-4.85h5.60l2.80,4.85l-2.80,4.85h-5.60zM760.1,342.7l2.80,-4.85h5.60l2.80,4.85l-2.80,4.85h-5.60zM760.1,356.5l2.80,-4.85h5.60l2.80,4.85l-2.80,4.85h-5.60zM760.1,370.3l2.80,-4.85h5.60l2.80,4.85l-2.80,4.85h-5.60zM760.1,384.2l2.80,-4.85h5.60l2.80,4.85l-2.80,4.85h-5.60zM760.1,398.0l2.80,-4.85h5.60l2.80,4.85l-2.80,4.85h-5.60zM760.1,411.9l2.80,-4.85h5.60l2.80,4.85l-2.80,4.85h-5.60zM771.8,404.9l2.80,-4.85h5.60l2.80,4.85l-2.80,4.85h-5.60zM771.8,418.8l2.80,-4.85h5.60l2.80,4.85l-2.80,4.85h-5.60zM771.8,432.6l2.80,-4.85h5.60l2.80,4.85l-2.80,4.85h-5.60zM771.8,446.4l2.80,-4.85h5.60l2.80,4.85l-2.80,4.85h-5.60zM783.5,398.0l2.80,-4.85h5.60l2.80,4.85l-2.80,4.85h-5.60zM783.5,411.9l2.80,-4.85h5.60l2.80,4.85l-2.80,4.85h-5.60zM783.5,425.7l2.80,-4.85h5.60l2.80,4.85l-2.80,4.85h-5.60zM783.5,439.5l2.80,-4.85h5.60l2.80,4.85l-2.80,4.85h-5.60zM783.5,453.4l2.80,-4.85h5.60l2.80,4.85l-2.80,4.85h-5.60zM795.3,404.9l2.80,-4.85h5.60l2.80,4.85l-2.80,4.85h-5.60zM795.3,418.8l2.80,-4.85h5.60l2.80,4.85l-2.80,4.85h-5.60zM795.3,432.6l2.80,-4.85h5.60l2.80,4.85l-2.80,4.85h-5.60zM795.3,446.4l2.80,-4.85h5.60l2.80,4.85l-2.80,4.85h-5.60zM807.0,398.0l2.80,-4.85h5.60l2.80,4.85l-2.80,4.85h-5.60zM807.0,411.9l2.80,-4.85h5.60l2.80,4.85l-2.80,4.85h-5.60zM807.0,425.7l2.80,-4.85h5.60l2.80,4.85l-2.80,4.85h-5.60zM807.0,439.5l2.80,-4.85h5.60l2.80,4.85l-2.80,4.85h-5.60zM807.0,453.4l2.80,-4.85h5.60l2.80,4.85l-2.80,4.85h-5.60zM818.7,404.9l2.80,-4.85h5.60l2.80,4.85l-2.80,4.85h-5.60zM818.7,418.8l2.80,-4.85h5.60l2.80,4.85l-2.80,4.85h-5.60zM818.7,432.6l2.80,-4.85h5.60l2.80,4.85l-2.80,4.85h-5.60zM818.7,446.4l2.80,-4.85h5.60l2.80,4.85l-2.80,4.85h-5.60zM830.4,425.7l2.80,-4.85h5.60l2.80,4.85l-2.80,4.85h-5.60zM830.4,439.5l2.80,-4.85h5.60l2.80,4.85l-2.80,4.85h-5.60zM830.4,453.4l2.80,-4.85h5.60l2.80,4.85l-2.80,4.85h-5.60zM842.1,418.8l2.80,-4.85h5.60l2.80,4.85l-2.80,4.85h-5.60zM842.1,432.6l2.80,-4.85h5.60l2.80,4.85l-2.80,4.85h-5.60zM842.1,446.4l2.80,-4.85h5.60l2.80,4.85l-2.80,4.85h-5.60zM853.8,425.7l2.80,-4.85h5.60l2.80,4.85l-2.80,4.85h-5.60zM853.8,439.5l2.80,-4.85h5.60l2.80,4.85l-2.80,4.85h-5.60zM853.8,453.4l2.80,-4.85h5.60l2.80,4.85l-2.80,4.85h-5.60zM865.5,418.8l2.80,-4.85h5.60l2.80,4.85l-2.80,4.85h-5.60zM865.5,432.6l2.80,-4.85h5.60l2.80,4.85l-2.80,4.85h-5.60zM865.5,446.4l2.80,-4.85h5.60l2.80,4.85l-2.80,4.85h-5.60zM877.2,425.7l2.80,-4.85h5.60l2.80,4.85l-2.80,4.85h-5.60zM877.2,439.5l2.80,-4.85h5.60l2.80,4.85l-2.80,4.85h-5.60zM877.2,453.4l2.80,-4.85h5.60l2.80,4.85l-2.80,4.85h-5.60zM888.9,418.8l2.80,-4.85h5.60l2.80,4.85l-2.80,4.85h-5.60zM888.9,432.6l2.80,-4.85h5.60l2.80,4.85l-2.80,4.85h-5.60zM888.9,446.4l2.80,-4.85h5.60l2.80,4.85l-2.80,4.85h-5.60zM900.6,425.7l2.80,-4.85h5.60l2.80,4.85l-2.80,4.85h-5.60zM900.6,439.5l2.80,-4.85h5.60l2.80,4.85l-2.80,4.85h-5.60zM900.6,453.4l2.80,-4.85h5.60l2.80,4.85l-2.80,4.85h-5.60zM912.4,418.8l2.80,-4.85h5.60l2.80,4.85l-2.80,4.85h-5.60zM912.4,432.6l2.80,-4.85h5.60l2.80,4.85l-2.80,4.85h-5.60zM912.4,446.4l2.80,-4.85h5.60l2.80,4.85l-2.80,4.85h-5.60zM924.1,425.7l2.80,-4.85h5.60l2.80,4.85l-2.80,4.85h-5.60zM924.1,439.5l2.80,-4.85h5.60l2.80,4.85l-2.80,4.85h-5.60zM924.1,453.4l2.80,-4.85h5.60l2.80,4.85l-2.80,4.85h-5.60zM935.8,418.8l2.80,-4.85h5.60l2.80,4.85l-2.80,4.85h-5.60zM935.8,432.6l2.80,-4.85h5.60l2.80,4.85l-2.80,4.85h-5.60zM935.8,446.4l2.80,-4.85h5.60l2.80,4.85l-2.80,4.85h-5.60zM947.5,425.7l2.80,-4.85h5.60l2.80,4.85l-2.80,4.85h-5.60zM947.5,439.5l2.80,-4.85h5.60l2.80,4.85l-2.80,4.85h-5.60zM947.5,453.4l2.80,-4.85h5.60l2.80,4.85l-2.80,4.85h-5.60zM959.2,418.8l2.80,-4.85h5.60l2.80,4.85l-2.80,4.85h-5.60zM959.2,432.6l2.80,-4.85h5.60l2.80,4.85l-2.80,4.85h-5.60zM959.2,446.4l2.80,-4.85h5.60l2.80,4.85l-2.80,4.85h-5.60z" fill="#fff" stroke="#7a7a7a" stroke-width="0.9"/>
<clipPath id="inB"><use href="#hB"/></clipPath>
<g clip-path="url(#inB)"><line x1="611.0" y1="357" x2="611.0" y2="398" stroke="#6a6a6a" stroke-width="0.8"/><line x1="613.0" y1="357" x2="613.0" y2="398" stroke="#6a6a6a" stroke-width="0.8"/><line x1="624.0" y1="365" x2="624.0" y2="392" stroke="#6a6a6a" stroke-width="0.8"/><line x1="628.0" y1="365" x2="628.0" y2="392" stroke="#6a6a6a" stroke-width="0.8"/><line x1="648.0" y1="357" x2="648.0" y2="372" stroke="#6a6a6a" stroke-width="0.8"/><line x1="652.0" y1="357" x2="652.0" y2="372" stroke="#6a6a6a" stroke-width="0.8"/><line x1="681.0" y1="350" x2="681.0" y2="370" stroke="#6a6a6a" stroke-width="0.8"/><line x1="684.0" y1="350" x2="684.0" y2="370" stroke="#6a6a6a" stroke-width="0.8"/><line x1="660.0" y1="350" x2="660.0" y2="360" stroke="#6a6a6a" stroke-width="0.8"/><line x1="720.0" y1="350" x2="720.0" y2="356" stroke="#6a6a6a" stroke-width="0.8"/><line x1="744.0" y1="350" x2="744.0" y2="356" stroke="#6a6a6a" stroke-width="0.8"/><line x1="768.0" y1="350" x2="768.0" y2="356" stroke="#6a6a6a" stroke-width="0.8"/><line x1="646.0" y1="378" x2="646.0" y2="392" stroke="#6a6a6a" stroke-width="0.8"/><line x1="669.0" y1="365" x2="669.0" y2="380" stroke="#6a6a6a" stroke-width="0.8"/><line x1="640.0" y1="350" x2="640.0" y2="365" stroke="#6a6a6a" stroke-width="0.8"/><path d="M620.0,380.0 H632.0" stroke="#777" stroke-width="0.8"/><path d="M642.0,370.0 H656.0" stroke="#777" stroke-width="0.8"/><path d="M660.0,358.0 H675.0" stroke="#777" stroke-width="0.8"/><path d="M618.0,352.0 H630.0" stroke="#777" stroke-width="0.8"/><path d="M700.0,431.0 H712.0" stroke="#777" stroke-width="0.8"/><path d="M724.0,431.0 H736.0" stroke="#777" stroke-width="0.8"/><path d="M748.0,431.0 H760.0" stroke="#777" stroke-width="0.8"/></g>
</g>
<g clip-path="url(#cC)"><path id="hC" d="M970.9,204.7l2.80,-4.85h5.60l2.80,4.85l-2.80,4.85h-5.60zM970.9,218.6l2.80,-4.85h5.60l2.80,4.85l-2.80,4.85h-5.60zM970.9,232.5l2.80,-4.85h5.60l2.80,4.85l-2.80,4.85h-5.60zM970.9,246.3l2.80,-4.85h5.60l2.80,4.85l-2.80,4.85h-5.60zM970.9,260.2l2.80,-4.85h5.60l2.80,4.85l-2.80,4.85h-5.60zM970.9,274.1l2.80,-4.85h5.60l2.80,4.85l-2.80,4.85h-5.60zM970.9,288.0l2.80,-4.85h5.60l2.80,4.85l-2.80,4.85h-5.60zM970.9,301.9l2.80,-4.85h5.60l2.80,4.85l-2.80,4.85h-5.60zM970.9,315.7l2.80,-4.85h5.60l2.80,4.85l-2.80,4.85h-5.60zM970.9,329.6l2.80,-4.85h5.60l2.80,4.85l-2.80,4.85h-5.60zM970.9,343.5l2.80,-4.85h5.60l2.80,4.85l-2.80,4.85h-5.60zM970.9,357.4l2.80,-4.85h5.60l2.80,4.85l-2.80,4.85h-5.60zM970.9,371.3l2.80,-4.85h5.60l2.80,4.85l-2.80,4.85h-5.60zM970.9,385.1l2.80,-4.85h5.60l2.80,4.85l-2.80,4.85h-5.60zM970.9,399.0l2.80,-4.85h5.60l2.80,4.85l-2.80,4.85h-5.60zM970.9,412.9l2.80,-4.85h5.60l2.80,4.85l-2.80,4.85h-5.60zM970.9,426.8l2.80,-4.85h5.60l2.80,4.85l-2.80,4.85h-5.60zM970.9,440.7l2.80,-4.85h5.60l2.80,4.85l-2.80,4.85h-5.60zM970.9,454.5l2.80,-4.85h5.60l2.80,4.85l-2.80,4.85h-5.60zM982.6,197.8l2.80,-4.85h5.60l2.80,4.85l-2.80,4.85h-5.60zM982.6,211.7l2.80,-4.85h5.60l2.80,4.85l-2.80,4.85h-5.60zM982.6,225.6l2.80,-4.85h5.60l2.80,4.85l-2.80,4.85h-5.60zM982.6,239.4l2.80,-4.85h5.60l2.80,4.85l-2.80,4.85h-5.60zM982.6,253.3l2.80,-4.85h5.60l2.80,4.85l-2.80,4.85h-5.60zM982.6,267.2l2.80,-4.85h5.60l2.80,4.85l-2.80,4.85h-5.60zM982.6,281.1l2.80,-4.85h5.60l2.80,4.85l-2.80,4.85h-5.60zM982.6,295.0l2.80,-4.85h5.60l2.80,4.85l-2.80,4.85h-5.60zM982.6,308.8l2.80,-4.85h5.60l2.80,4.85l-2.80,4.85h-5.60zM982.6,322.7l2.80,-4.85h5.60l2.80,4.85l-2.80,4.85h-5.60zM982.6,336.6l2.80,-4.85h5.60l2.80,4.85l-2.80,4.85h-5.60zM982.6,350.5l2.80,-4.85h5.60l2.80,4.85l-2.80,4.85h-5.60zM982.6,364.4l2.80,-4.85h5.60l2.80,4.85l-2.80,4.85h-5.60zM982.6,378.2l2.80,-4.85h5.60l2.80,4.85l-2.80,4.85h-5.60zM982.6,392.1l2.80,-4.85h5.60l2.80,4.85l-2.80,4.85h-5.60zM982.6,406.0l2.80,-4.85h5.60l2.80,4.85l-2.80,4.85h-5.60zM982.6,419.9l2.80,-4.85h5.60l2.80,4.85l-2.80,4.85h-5.60zM982.6,433.8l2.80,-4.85h5.60l2.80,4.85l-2.80,4.85h-5.60zM982.6,447.6l2.80,-4.85h5.60l2.80,4.85l-2.80,4.85h-5.60zM982.6,461.5l2.80,-4.85h5.60l2.80,4.85l-2.80,4.85h-5.60zM994.3,204.7l2.80,-4.85h5.60l2.80,4.85l-2.80,4.85h-5.60zM994.3,218.6l2.80,-4.85h5.60l2.80,4.85l-2.80,4.85h-5.60zM994.3,232.5l2.80,-4.85h5.60l2.80,4.85l-2.80,4.85h-5.60zM994.3,246.3l2.80,-4.85h5.60l2.80,4.85l-2.80,4.85h-5.60zM994.3,260.2l2.80,-4.85h5.60l2.80,4.85l-2.80,4.85h-5.60zM994.3,274.1l2.80,-4.85h5.60l2.80,4.85l-2.80,4.85h-5.60zM994.3,288.0l2.80,-4.85h5.60l2.80,4.85l-2.80,4.85h-5.60zM994.3,301.9l2.80,-4.85h5.60l2.80,4.85l-2.80,4.85h-5.60zM994.3,315.7l2.80,-4.85h5.60l2.80,4.85l-2.80,4.85h-5.60zM994.3,329.6l2.80,-4.85h5.60l2.80,4.85l-2.80,4.85h-5.60zM994.3,343.5l2.80,-4.85h5.60l2.80,4.85l-2.80,4.85h-5.60zM994.3,357.4l2.80,-4.85h5.60l2.80,4.85l-2.80,4.85h-5.60zM994.3,371.3l2.80,-4.85h5.60l2.80,4.85l-2.80,4.85h-5.60zM994.3,385.1l2.80,-4.85h5.60l2.80,4.85l-2.80,4.85h-5.60zM994.3,399.0l2.80,-4.85h5.60l2.80,4.85l-2.80,4.85h-5.60zM994.3,412.9l2.80,-4.85h5.60l2.80,4.85l-2.80,4.85h-5.60zM994.3,426.8l2.80,-4.85h5.60l2.80,4.85l-2.80,4.85h-5.60zM994.3,440.7l2.80,-4.85h5.60l2.80,4.85l-2.80,4.85h-5.60zM994.3,454.5l2.80,-4.85h5.60l2.80,4.85l-2.80,4.85h-5.60zM1006.0,197.8l2.80,-4.85h5.60l2.80,4.85l-2.80,4.85h-5.60zM1006.0,211.7l2.80,-4.85h5.60l2.80,4.85l-2.80,4.85h-5.60zM1006.0,225.6l2.80,-4.85h5.60l2.80,4.85l-2.80,4.85h-5.60zM1006.0,239.4l2.80,-4.85h5.60l2.80,4.85l-2.80,4.85h-5.60zM1006.0,253.3l2.80,-4.85h5.60l2.80,4.85l-2.80,4.85h-5.60zM1006.0,267.2l2.80,-4.85h5.60l2.80,4.85l-2.80,4.85h-5.60zM1006.0,281.1l2.80,-4.85h5.60l2.80,4.85l-2.80,4.85h-5.60zM1006.0,295.0l2.80,-4.85h5.60l2.80,4.85l-2.80,4.85h-5.60zM1006.0,308.8l2.80,-4.85h5.60l2.80,4.85l-2.80,4.85h-5.60zM1006.0,322.7l2.80,-4.85h5.60l2.80,4.85l-2.80,4.85h-5.60zM1006.0,336.6l2.80,-4.85h5.60l2.80,4.85l-2.80,4.85h-5.60zM1006.0,350.5l2.80,-4.85h5.60l2.80,4.85l-2.80,4.85h-5.60zM1006.0,364.4l2.80,-4.85h5.60l2.80,4.85l-2.80,4.85h-5.60zM1006.0,378.2l2.80,-4.85h5.60l2.80,4.85l-2.80,4.85h-5.60zM1006.0,392.1l2.80,-4.85h5.60l2.80,4.85l-2.80,4.85h-5.60zM1006.0,406.0l2.80,-4.85h5.60l2.80,4.85l-2.80,4.85h-5.60zM1006.0,419.9l2.80,-4.85h5.60l2.80,4.85l-2.80,4.85h-5.60zM1006.0,433.8l2.80,-4.85h5.60l2.80,4.85l-2.80,4.85h-5.60zM1006.0,447.6l2.80,-4.85h5.60l2.80,4.85l-2.80,4.85h-5.60zM1006.0,461.5l2.80,-4.85h5.60l2.80,4.85l-2.80,4.85h-5.60zM1017.7,204.7l2.80,-4.85h5.60l2.80,4.85l-2.80,4.85h-5.60zM1017.7,218.6l2.80,-4.85h5.60l2.80,4.85l-2.80,4.85h-5.60zM1017.7,232.5l2.80,-4.85h5.60l2.80,4.85l-2.80,4.85h-5.60zM1017.7,246.3l2.80,-4.85h5.60l2.80,4.85l-2.80,4.85h-5.60zM1017.7,260.2l2.80,-4.85h5.60l2.80,4.85l-2.80,4.85h-5.60zM1017.7,274.1l2.80,-4.85h5.60l2.80,4.85l-2.80,4.85h-5.60zM1017.7,288.0l2.80,-4.85h5.60l2.80,4.85l-2.80,4.85h-5.60zM1017.7,301.9l2.80,-4.85h5.60l2.80,4.85l-2.80,4.85h-5.60zM1017.7,315.7l2.80,-4.85h5.60l2.80,4.85l-2.80,4.85h-5.60zM1017.7,329.6l2.80,-4.85h5.60l2.80,4.85l-2.80,4.85h-5.60zM1017.7,343.5l2.80,-4.85h5.60l2.80,4.85l-2.80,4.85h-5.60zM1017.7,357.4l2.80,-4.85h5.60l2.80,4.85l-2.80,4.85h-5.60zM1017.7,371.3l2.80,-4.85h5.60l2.80,4.85l-2.80,4.85h-5.60zM1017.7,385.1l2.80,-4.85h5.60l2.80,4.85l-2.80,4.85h-5.60zM1017.7,399.0l2.80,-4.85h5.60l2.80,4.85l-2.80,4.85h-5.60zM1017.7,412.9l2.80,-4.85h5.60l2.80,4.85l-2.80,4.85h-5.60zM1017.7,426.8l2.80,-4.85h5.60l2.80,4.85l-2.80,4.85h-5.60zM1017.7,440.7l2.80,-4.85h5.60l2.80,4.85l-2.80,4.85h-5.60zM1017.7,454.5l2.80,-4.85h5.60l2.80,4.85l-2.80,4.85h-5.60zM1029.4,197.8l2.80,-4.85h5.60l2.80,4.85l-2.80,4.85h-5.60zM1029.4,211.7l2.80,-4.85h5.60l2.80,4.85l-2.80,4.85h-5.60zM1029.4,225.6l2.80,-4.85h5.60l2.80,4.85l-2.80,4.85h-5.60zM1029.4,239.4l2.80,-4.85h5.60l2.80,4.85l-2.80,4.85h-5.60zM1029.4,253.3l2.80,-4.85h5.60l2.80,4.85l-2.80,4.85h-5.60zM1029.4,267.2l2.80,-4.85h5.60l2.80,4.85l-2.80,4.85h-5.60zM1029.4,281.1l2.80,-4.85h5.60l2.80,4.85l-2.80,4.85h-5.60zM1029.4,295.0l2.80,-4.85h5.60l2.80,4.85l-2.80,4.85h-5.60zM1029.4,308.8l2.80,-4.85h5.60l2.80,4.85l-2.80,4.85h-5.60zM1029.4,322.7l2.80,-4.85h5.60l2.80,4.85l-2.80,4.85h-5.60zM1029.4,336.6l2.80,-4.85h5.60l2.80,4.85l-2.80,4.85h-5.60zM1029.4,350.5l2.80,-4.85h5.60l2.80,4.85l-2.80,4.85h-5.60zM1029.4,364.4l2.80,-4.85h5.60l2.80,4.85l-2.80,4.85h-5.60zM1029.4,378.2l2.80,-4.85h5.60l2.80,4.85l-2.80,4.85h-5.60zM1029.4,392.1l2.80,-4.85h5.60l2.80,4.85l-2.80,4.85h-5.60zM1029.4,406.0l2.80,-4.85h5.60l2.80,4.85l-2.80,4.85h-5.60zM1029.4,419.9l2.80,-4.85h5.60l2.80,4.85l-2.80,4.85h-5.60zM1029.4,433.8l2.80,-4.85h5.60l2.80,4.85l-2.80,4.85h-5.60zM1029.4,447.6l2.80,-4.85h5.60l2.80,4.85l-2.80,4.85h-5.60zM1029.4,461.5l2.80,-4.85h5.60l2.80,4.85l-2.80,4.85h-5.60zM1041.2,204.7l2.80,-4.85h5.60l2.80,4.85l-2.80,4.85h-5.60zM1041.2,218.6l2.80,-4.85h5.60l2.80,4.85l-2.80,4.85h-5.60zM1041.2,232.5l2.80,-4.85h5.60l2.80,4.85l-2.80,4.85h-5.60zM1041.2,246.3l2.80,-4.85h5.60l2.80,4.85l-2.80,4.85h-5.60zM1041.2,260.2l2.80,-4.85h5.60l2.80,4.85l-2.80,4.85h-5.60zM1041.2,274.1l2.80,-4.85h5.60l2.80,4.85l-2.80,4.85h-5.60zM1041.2,288.0l2.80,-4.85h5.60l2.80,4.85l-2.80,4.85h-5.60zM1041.2,301.9l2.80,-4.85h5.60l2.80,4.85l-2.80,4.85h-5.60zM1041.2,315.7l2.80,-4.85h5.60l2.80,4.85l-2.80,4.85h-5.60zM1041.2,329.6l2.80,-4.85h5.60l2.80,4.85l-2.80,4.85h-5.60zM1041.2,343.5l2.80,-4.85h5.60l2.80,4.85l-2.80,4.85h-5.60zM1041.2,357.4l2.80,-4.85h5.60l2.80,4.85l-2.80,4.85h-5.60zM1041.2,371.3l2.80,-4.85h5.60l2.80,4.85l-2.80,4.85h-5.60zM1041.2,385.1l2.80,-4.85h5.60l2.80,4.85l-2.80,4.85h-5.60zM1041.2,399.0l2.80,-4.85h5.60l2.80,4.85l-2.80,4.85h-5.60zM1041.2,412.9l2.80,-4.85h5.60l2.80,4.85l-2.80,4.85h-5.60zM1041.2,426.8l2.80,-4.85h5.60l2.80,4.85l-2.80,4.85h-5.60zM1041.2,440.7l2.80,-4.85h5.60l2.80,4.85l-2.80,4.85h-5.60zM1041.2,454.5l2.80,-4.85h5.60l2.80,4.85l-2.80,4.85h-5.60zM1052.9,197.8l2.80,-4.85h5.60l2.80,4.85l-2.80,4.85h-5.60zM1052.9,211.7l2.80,-4.85h5.60l2.80,4.85l-2.80,4.85h-5.60zM1052.9,225.6l2.80,-4.85h5.60l2.80,4.85l-2.80,4.85h-5.60zM1052.9,239.4l2.80,-4.85h5.60l2.80,4.85l-2.80,4.85h-5.60zM1052.9,253.3l2.80,-4.85h5.60l2.80,4.85l-2.80,4.85h-5.60zM1052.9,267.2l2.80,-4.85h5.60l2.80,4.85l-2.80,4.85h-5.60zM1052.9,281.1l2.80,-4.85h5.60l2.80,4.85l-2.80,4.85h-5.60zM1052.9,295.0l2.80,-4.85h5.60l2.80,4.85l-2.80,4.85h-5.60zM1052.9,308.8l2.80,-4.85h5.60l2.80,4.85l-2.80,4.85h-5.60zM1052.9,322.7l2.80,-4.85h5.60l2.80,4.85l-2.80,4.85h-5.60zM1052.9,336.6l2.80,-4.85h5.60l2.80,4.85l-2.80,4.85h-5.60zM1052.9,350.5l2.80,-4.85h5.60l2.80,4.85l-2.80,4.85h-5.60zM1052.9,364.4l2.80,-4.85h5.60l2.80,4.85l-2.80,4.85h-5.60zM1052.9,378.2l2.80,-4.85h5.60l2.80,4.85l-2.80,4.85h-5.60zM1052.9,392.1l2.80,-4.85h5.60l2.80,4.85l-2.80,4.85h-5.60zM1052.9,406.0l2.80,-4.85h5.60l2.80,4.85l-2.80,4.85h-5.60zM1052.9,419.9l2.80,-4.85h5.60l2.80,4.85l-2.80,4.85h-5.60zM1052.9,433.8l2.80,-4.85h5.60l2.80,4.85l-2.80,4.85h-5.60zM1052.9,447.6l2.80,-4.85h5.60l2.80,4.85l-2.80,4.85h-5.60zM1052.9,461.5l2.80,-4.85h5.60l2.80,4.85l-2.80,4.85h-5.60zM1064.6,204.7l2.80,-4.85h5.60l2.80,4.85l-2.80,4.85h-5.60zM1064.6,218.6l2.80,-4.85h5.60l2.80,4.85l-2.80,4.85h-5.60zM1064.6,232.5l2.80,-4.85h5.60l2.80,4.85l-2.80,4.85h-5.60zM1064.6,246.3l2.80,-4.85h5.60l2.80,4.85l-2.80,4.85h-5.60zM1064.6,260.2l2.80,-4.85h5.60l2.80,4.85l-2.80,4.85h-5.60zM1064.6,274.1l2.80,-4.85h5.60l2.80,4.85l-2.80,4.85h-5.60zM1064.6,288.0l2.80,-4.85h5.60l2.80,4.85l-2.80,4.85h-5.60zM1064.6,301.9l2.80,-4.85h5.60l2.80,4.85l-2.80,4.85h-5.60zM1064.6,315.7l2.80,-4.85h5.60l2.80,4.85l-2.80,4.85h-5.60zM1064.6,329.6l2.80,-4.85h5.60l2.80,4.85l-2.80,4.85h-5.60zM1064.6,343.5l2.80,-4.85h5.60l2.80,4.85l-2.80,4.85h-5.60zM1064.6,357.4l2.80,-4.85h5.60l2.80,4.85l-2.80,4.85h-5.60zM1064.6,371.3l2.80,-4.85h5.60l2.80,4.85l-2.80,4.85h-5.60zM1064.6,385.1l2.80,-4.85h5.60l2.80,4.85l-2.80,4.85h-5.60zM1064.6,399.0l2.80,-4.85h5.60l2.80,4.85l-2.80,4.85h-5.60zM1064.6,412.9l2.80,-4.85h5.60l2.80,4.85l-2.80,4.85h-5.60zM1064.6,426.8l2.80,-4.85h5.60l2.80,4.85l-2.80,4.85h-5.60zM1064.6,440.7l2.80,-4.85h5.60l2.80,4.85l-2.80,4.85h-5.60zM1064.6,454.5l2.80,-4.85h5.60l2.80,4.85l-2.80,4.85h-5.60zM1076.3,197.8l2.80,-4.85h5.60l2.80,4.85l-2.80,4.85h-5.60zM1076.3,211.7l2.80,-4.85h5.60l2.80,4.85l-2.80,4.85h-5.60zM1076.3,225.6l2.80,-4.85h5.60l2.80,4.85l-2.80,4.85h-5.60zM1076.3,239.4l2.80,-4.85h5.60l2.80,4.85l-2.80,4.85h-5.60zM1076.3,253.3l2.80,-4.85h5.60l2.80,4.85l-2.80,4.85h-5.60zM1076.3,267.2l2.80,-4.85h5.60l2.80,4.85l-2.80,4.85h-5.60zM1076.3,281.1l2.80,-4.85h5.60l2.80,4.85l-2.80,4.85h-5.60zM1076.3,295.0l2.80,-4.85h5.60l2.80,4.85l-2.80,4.85h-5.60zM1076.3,308.8l2.80,-4.85h5.60l2.80,4.85l-2.80,4.85h-5.60zM1076.3,322.7l2.80,-4.85h5.60l2.80,4.85l-2.80,4.85h-5.60zM1076.3,336.6l2.80,-4.85h5.60l2.80,4.85l-2.80,4.85h-5.60zM1076.3,350.5l2.80,-4.85h5.60l2.80,4.85l-2.80,4.85h-5.60zM1076.3,364.4l2.80,-4.85h5.60l2.80,4.85l-2.80,4.85h-5.60zM1076.3,378.2l2.80,-4.85h5.60l2.80,4.85l-2.80,4.85h-5.60zM1076.3,392.1l2.80,-4.85h5.60l2.80,4.85l-2.80,4.85h-5.60zM1076.3,406.0l2.80,-4.85h5.60l2.80,4.85l-2.80,4.85h-5.60zM1076.3,419.9l2.80,-4.85h5.60l2.80,4.85l-2.80,4.85h-5.60zM1076.3,433.8l2.80,-4.85h5.60l2.80,4.85l-2.80,4.85h-5.60zM1076.3,447.6l2.80,-4.85h5.60l2.80,4.85l-2.80,4.85h-5.60zM1076.3,461.5l2.80,-4.85h5.60l2.80,4.85l-2.80,4.85h-5.60zM1088.0,204.7l2.80,-4.85h5.60l2.80,4.85l-2.80,4.85h-5.60zM1088.0,218.6l2.80,-4.85h5.60l2.80,4.85l-2.80,4.85h-5.60zM1088.0,232.5l2.80,-4.85h5.60l2.80,4.85l-2.80,4.85h-5.60zM1088.0,246.3l2.80,-4.85h5.60l2.80,4.85l-2.80,4.85h-5.60zM1099.7,197.8l2.80,-4.85h5.60l2.80,4.85l-2.80,4.85h-5.60zM1099.7,211.7l2.80,-4.85h5.60l2.80,4.85l-2.80,4.85h-5.60zM1099.7,225.6l2.80,-4.85h5.60l2.80,4.85l-2.80,4.85h-5.60zM1099.7,239.4l2.80,-4.85h5.60l2.80,4.85l-2.80,4.85h-5.60z" fill="#fff" stroke="#7a7a7a" stroke-width="0.9"/>
<clipPath id="inC"><use href="#hC"/></clipPath>
<g clip-path="url(#inC)" stroke="#6a6a6a" stroke-width="0.8"><line x1="1010.5" y1="226" x2="1010.5" y2="470"/><line x1="1013.0" y1="226" x2="1013.0" y2="470"/><line x1="1031.0" y1="262" x2="1031.0" y2="470"/><line x1="1044.5" y1="262" x2="1044.5" y2="470"/><line x1="1046.6" y1="228" x2="1046.6" y2="262"/><line x1="1050.4" y1="262" x2="1050.4" y2="470"/><line x1="1057.0" y1="227" x2="1057.0" y2="245"/><line x1="1059.0" y1="227" x2="1059.0" y2="245"/><line x1="1060.2" y1="250" x2="1060.2" y2="470"/><line x1="1078.6" y1="240" x2="1078.6" y2="470"/><line x1="1093.3" y1="228" x2="1093.3" y2="240"/><path d="M995,208.6 H1111" stroke="#8f8f8f" stroke-width="1.7"/><path d="M1000,226.3 H1100" stroke="#888" stroke-width="1"/></g>
</g>
<line x1="971.3" y1="192" x2="971.3" y2="412" stroke="#6a6a6a" stroke-width="1"/>
<circle cx="974.5" cy="458" r="6" fill="#fff" stroke="#666" stroke-width="0.9"/><path d="M974.5,452 V464 M974.5,458 H980.5" stroke="#666" stroke-width="0.8"/>
<rect x="972.3" y="262" width="2.8" height="70" fill="#fff" stroke="#777" stroke-width="0.7"/>
<circle cx="124.5" cy="376.3" r="4.6" fill="#a8aaae" stroke="#8a8a8a" stroke-width="0.8"/><circle cx="124.5" cy="376.3" r="2.2" fill="#fff"/>
<circle cx="193.0" cy="484.0" r="4.6" fill="#a8aaae" stroke="#8a8a8a" stroke-width="0.8"/><circle cx="193.0" cy="484.0" r="2.2" fill="#fff"/>
<circle cx="459.0" cy="484.0" r="4.6" fill="#a8aaae" stroke="#8a8a8a" stroke-width="0.8"/><circle cx="459.0" cy="484.0" r="2.2" fill="#fff"/>
<circle cx="559.4" cy="271.5" r="4.6" fill="#a8aaae" stroke="#8a8a8a" stroke-width="0.8"/><circle cx="559.4" cy="271.5" r="2.2" fill="#fff"/>
<circle cx="601.2" cy="271.5" r="4.6" fill="#a8aaae" stroke="#8a8a8a" stroke-width="0.8"/><circle cx="601.2" cy="271.5" r="2.2" fill="#fff"/>
<circle cx="571.5" cy="475.0" r="4.6" fill="#a8aaae" stroke="#8a8a8a" stroke-width="0.8"/><circle cx="571.5" cy="475.0" r="2.2" fill="#fff"/>
<circle cx="601.5" cy="475.0" r="4.6" fill="#a8aaae" stroke="#8a8a8a" stroke-width="0.8"/><circle cx="601.5" cy="475.0" r="2.2" fill="#fff"/>
<circle cx="676.7" cy="327.8" r="4.6" fill="#a8aaae" stroke="#8a8a8a" stroke-width="0.8"/><circle cx="676.7" cy="327.8" r="2.2" fill="#fff"/>
<circle cx="1098.7" cy="467.0" r="4.6" fill="#a8aaae" stroke="#8a8a8a" stroke-width="0.8"/><circle cx="1098.7" cy="467.0" r="2.2" fill="#fff"/>
<circle cx="1099.0" cy="255.0" r="4.6" fill="#a8aaae" stroke="#8a8a8a" stroke-width="0.8"/><circle cx="1099.0" cy="255.0" r="2.2" fill="#fff"/>
<circle cx="147.0" cy="473" r="7.4" fill="#b9bbbf" stroke="#8e8e8e" stroke-width="0.9"/><circle cx="147.0" cy="473" r="4.8" fill="#f7f7f7" stroke="#a8a8a8" stroke-width="0.8"/><path d="M147.0,468.4 V472" stroke="#aaa" stroke-width="0.9"/>
<circle cx="218.7" cy="473" r="7.4" fill="#b9bbbf" stroke="#8e8e8e" stroke-width="0.9"/><circle cx="218.7" cy="473" r="4.8" fill="#f7f7f7" stroke="#a8a8a8" stroke-width="0.8"/><path d="M218.7,468.4 V472" stroke="#aaa" stroke-width="0.9"/>
<circle cx="290.0" cy="473" r="7.4" fill="#b9bbbf" stroke="#8e8e8e" stroke-width="0.9"/><circle cx="290.0" cy="473" r="4.8" fill="#f7f7f7" stroke="#a8a8a8" stroke-width="0.8"/><path d="M290.0,468.4 V472" stroke="#aaa" stroke-width="0.9"/>
<circle cx="361.7" cy="473" r="7.4" fill="#b9bbbf" stroke="#8e8e8e" stroke-width="0.9"/><circle cx="361.7" cy="473" r="4.8" fill="#f7f7f7" stroke="#a8a8a8" stroke-width="0.8"/><path d="M361.7,468.4 V472" stroke="#aaa" stroke-width="0.9"/>
<circle cx="433.7" cy="473" r="7.4" fill="#b9bbbf" stroke="#8e8e8e" stroke-width="0.9"/><circle cx="433.7" cy="473" r="4.8" fill="#f7f7f7" stroke="#a8a8a8" stroke-width="0.8"/><path d="M433.7,468.4 V472" stroke="#aaa" stroke-width="0.9"/>
<circle cx="720.7" cy="284.4" r="5.2" fill="#e6e8ec" stroke="#555" stroke-width="1.0"/><circle cx="720.7" cy="284.4" r="3.0" fill="#fff" stroke="#555" stroke-width="1.0"/>
<circle cx="720.7" cy="312.7" r="5.2" fill="#e6e8ec" stroke="#555" stroke-width="1.0"/><circle cx="720.7" cy="312.7" r="3.0" fill="#fff" stroke="#555" stroke-width="1.0"/>
<circle cx="725.4" cy="247.0" r="6.5" fill="#e6e8ec" stroke="#555" stroke-width="1.0"/><circle cx="725.4" cy="247.0" r="4.0" fill="#fff" stroke="#555" stroke-width="1.0"/>
<circle cx="838.7" cy="296.0" r="4.6" fill="#e6e8ec" stroke="#555" stroke-width="1.0"/><circle cx="838.7" cy="296.0" r="2.6" fill="#fff" stroke="#555" stroke-width="1.0"/>
<circle cx="838.7" cy="324.4" r="4.6" fill="#e6e8ec" stroke="#555" stroke-width="1.0"/><circle cx="838.7" cy="324.4" r="2.6" fill="#fff" stroke="#555" stroke-width="1.0"/>
<rect x="144" y="306.7" width="151.6" height="155.5" rx="5" fill="#e8e9eb" stroke="#555" stroke-width="1"/>
<rect x="148.8" y="312.5" width="141.5" height="145.5" fill="#fff" stroke="#666" stroke-width="0.8"/>
<g fill="none" stroke="#5e5e5e" stroke-width="0.8"><circle cx="220" cy="384" r="64"/><circle cx="219.5" cy="384" r="42.5"/><path d="M237.7,387.1 Q250.3,401.5 256.4,421.1 T257.1,438.6 M252.9,413.2 L255.9,437.0 M228.6,399.8 Q225.2,418.6 213.7,435.6 T200.4,447.0 M217.7,427.9 L201.0,445.1 M213.0,400.6 Q196.2,409.6 175.7,411.3 T158.5,408.0 M184.2,409.6 L160.4,407.3 M202.7,388.9 Q185.1,381.4 171.1,366.4 T162.9,350.9 M177.7,372.0 L164.6,351.9 M205.4,373.5 Q200.3,355.1 203.3,334.8 T210.3,318.7 M203.0,343.4 L210.6,320.7 M219.1,366.0 Q230.3,350.6 248.1,340.2 T265.0,335.7 M241.1,345.4 L263.6,337.2 M233.5,372.1 Q252.6,371.2 271.7,378.7 T285.8,389.1 M263.3,376.4 L283.8,388.9 "/><path d="M150,347 L176,320 M154,350 L180,324 M264,320 L290,346 M260,324 L286,350 M150,424 L174,452 M154,420 L178,448 M264,452 L290,426 M260,448 L286,422"/></g>
<rect x="148.0" y="312.5" width="5.2" height="145.5" fill="#c9cacc" stroke="#7a7a7a" stroke-width="0.9"/><path d="M149.8,313 V457.5" stroke="#e6e6e8" stroke-width="1"/><rect x="173.1" y="312.5" width="5.2" height="145.5" fill="#c9cacc" stroke="#7a7a7a" stroke-width="0.9"/><path d="M174.9,313 V457.5" stroke="#e6e6e8" stroke-width="1"/><rect x="202.2" y="312.5" width="5.2" height="145.5" fill="#c9cacc" stroke="#7a7a7a" stroke-width="0.9"/><path d="M204.0,313 V457.5" stroke="#e6e6e8" stroke-width="1"/><rect x="231.4" y="312.5" width="5.2" height="145.5" fill="#c9cacc" stroke="#7a7a7a" stroke-width="0.9"/><path d="M233.2,313 V457.5" stroke="#e6e6e8" stroke-width="1"/><rect x="260.9" y="312.5" width="5.2" height="145.5" fill="#c9cacc" stroke="#7a7a7a" stroke-width="0.9"/><path d="M262.7,313 V457.5" stroke="#e6e6e8" stroke-width="1"/><rect x="286.0" y="312.5" width="5.2" height="145.5" fill="#c9cacc" stroke="#7a7a7a" stroke-width="0.9"/><path d="M287.8,313 V457.5" stroke="#e6e6e8" stroke-width="1"/><rect x="148.8" y="312.7" width="141.5" height="4.6" fill="#c4c5c7" stroke="#7a7a7a" stroke-width="0.9"/><path d="M149,314.5 H290" stroke="#e0e0e2" stroke-width="0.9"/><rect x="148.8" y="338.2" width="141.5" height="4.6" fill="#c9cacc" stroke="#7a7a7a" stroke-width="0.9"/><path d="M149,340.0 H290" stroke="#e0e0e2" stroke-width="0.9"/><rect x="148.8" y="361.0" width="141.5" height="5.6" fill="#9c9da0" stroke="#7a7a7a" stroke-width="0.9"/><path d="M149,363.3 H290" stroke="#e0e0e2" stroke-width="0.9"/><rect x="148.8" y="385.9" width="141.5" height="4.6" fill="#c9cacc" stroke="#7a7a7a" stroke-width="0.9"/><path d="M149,387.7 H290" stroke="#e0e0e2" stroke-width="0.9"/><rect x="148.8" y="408.8" width="141.5" height="5.6" fill="#9c9da0" stroke="#7a7a7a" stroke-width="0.9"/><path d="M149,411.1 H290" stroke="#e0e0e2" stroke-width="0.9"/><rect x="148.8" y="433.1" width="141.5" height="4.6" fill="#c9cacc" stroke="#7a7a7a" stroke-width="0.9"/><path d="M149,434.9 H290" stroke="#e0e0e2" stroke-width="0.9"/><rect x="148.8" y="453.2" width="141.5" height="4.6" fill="#c4c5c7" stroke="#7a7a7a" stroke-width="0.9"/><path d="M149,455.0 H290" stroke="#e0e0e2" stroke-width="0.9"/><rect x="174.5" y="338.3" width="2.4" height="2.4" transform="rotate(45 175.7 339.5)" fill="#666"/><rect x="174.5" y="387.0" width="2.4" height="2.4" transform="rotate(45 175.7 388.2)" fill="#666"/><rect x="174.5" y="434.2" width="2.4" height="2.4" transform="rotate(45 175.7 435.4)" fill="#666"/><rect x="203.6" y="338.3" width="2.4" height="2.4" transform="rotate(45 204.8 339.5)" fill="#666"/><rect x="203.6" y="387.0" width="2.4" height="2.4" transform="rotate(45 204.8 388.2)" fill="#666"/><rect x="203.6" y="434.2" width="2.4" height="2.4" transform="rotate(45 204.8 435.4)" fill="#666"/><rect x="232.8" y="338.3" width="2.4" height="2.4" transform="rotate(45 234.0 339.5)" fill="#666"/><rect x="232.8" y="387.0" width="2.4" height="2.4" transform="rotate(45 234.0 388.2)" fill="#666"/><rect x="232.8" y="434.2" width="2.4" height="2.4" transform="rotate(45 234.0 435.4)" fill="#666"/><rect x="262.3" y="338.3" width="2.4" height="2.4" transform="rotate(45 263.5 339.5)" fill="#666"/><rect x="262.3" y="387.0" width="2.4" height="2.4" transform="rotate(45 263.5 388.2)" fill="#666"/><rect x="262.3" y="434.2" width="2.4" height="2.4" transform="rotate(45 263.5 435.4)" fill="#666"/>
<g fill="#fff" stroke="#777" stroke-width="0.9"><circle cx="161" cy="324.2" r="3.8"/><circle cx="153.9" cy="330.5" r="4"/><circle cx="153.9" cy="330.5" r="1.9"/><circle cx="279" cy="324.2" r="3.8"/><circle cx="286" cy="331" r="4"/><circle cx="286" cy="331" r="1.9"/><circle cx="160.5" cy="444.8" r="3.8"/><circle cx="166.9" cy="451.8" r="4"/><circle cx="166.9" cy="451.8" r="1.9"/><circle cx="278.5" cy="445" r="3.8"/><circle cx="271.8" cy="451.8" r="4"/><circle cx="271.8" cy="451.8" r="1.9"/></g>
<rect x="144" y="306.7" width="151.6" height="155.5" rx="5" fill="none" stroke="#666" stroke-width="1"/>
<path d="M199,306.7 Q204,297 209,306.7" fill="#dedfe2" stroke="#666" stroke-width="0.9"/>
<circle cx="204.0" cy="304.4" r="3.6" fill="#e6e8ec" stroke="#777" stroke-width="0.9"/><circle cx="204.0" cy="304.4" r="2.2" fill="#fff" stroke="#777" stroke-width="0.9"/>
<path d="M343,306.1 H440 Q442,306.1 443,303.5 Q447,298.5 451,303.5 Q452,306.1 454,306.1 H486.3 Q491.3,306.1 491.3,311 V457.2 Q491.3,462.2 486.3,462.2 H343 Q338,462.2 338,457.2 V311 Q338,306.1 343,306.1 Z" fill="#c5cad6" stroke="#666" stroke-width="1"/>
<rect x="340.8" y="308.8" width="147.8" height="150.6" rx="3.5" fill="none" stroke="#8a8a8a" stroke-width="0.8"/>
<rect x="342" y="311.2" width="145.3" height="2.2" fill="#9a9b9e"/>
<path d="M344,315.5 H485" stroke="#888" stroke-width="0.7"/>
<rect x="343.8" y="317.9" width="141.5" height="43.3" fill="#c5cad6" stroke="#555" stroke-width="1"/>
<line x1="344" y1="360.5" x2="485" y2="360.5" stroke="#444" stroke-width="1.4"/>
<rect x="343.8" y="365.9" width="141.5" height="42.9" fill="#c5cad6" stroke="#555" stroke-width="1"/>
<line x1="344" y1="408.1" x2="485" y2="408.1" stroke="#444" stroke-width="1.4"/>
<rect x="343.8" y="414.2" width="141.5" height="42.6" fill="#c5cad6" stroke="#555" stroke-width="1"/>
<line x1="344" y1="456.1" x2="485" y2="456.1" stroke="#444" stroke-width="1.4"/>
<path d="M342,363.5 H487" stroke="#999" stroke-width="0.7"/>
<path d="M342,411.5 H487" stroke="#999" stroke-width="0.7"/>
<circle cx="447" cy="305.3" r="3.6" fill="#b4b6ba" stroke="#777" stroke-width="0.8"/><circle cx="447" cy="305.3" r="1.8" fill="#eee"/>
<path d="M611.5,338 V202 Q611.5,200.3 613.5,200.3 H971" fill="none" stroke="#666" stroke-width="1"/>
<rect x="620" y="200.5" width="32.7" height="135" fill="#c5cad6" stroke="#666" stroke-width="0.9"/>
<rect x="624" y="222" width="23.7" height="34.5" fill="#fff" stroke="#777" stroke-width="0.9"/>
<rect x="624" y="277" width="23.7" height="35.2" fill="#fff" stroke="#777" stroke-width="0.9"/>
<rect x="628.4" y="193.2" width="41.2" height="6.2" fill="#e6e8ec" stroke="#666" stroke-width="0.8"/>
<path d="M630,195.6 H660 M630,197.6 H668" stroke="#999" stroke-width="0.6"/><rect x="667.6" y="195" width="1.6" height="3" fill="#333"/>
<rect x="688.3" y="197.3" width="10.7" height="3.6" rx="1" fill="#eceef1" stroke="#777" stroke-width="0.7"/>
<path d="M736,194 V200.5" stroke="#666" stroke-width="0.8"/>
<rect x="608.5" y="213" width="3" height="10" fill="#e6e8ec" stroke="#666" stroke-width="0.7"/>
<rect x="608.5" y="320" width="3" height="10" fill="#e6e8ec" stroke="#666" stroke-width="0.7"/>
<rect x="736" y="197.5" width="235" height="3" fill="#eef0f3" stroke="#777" stroke-width="0.7"/>
<rect x="611.6" y="338.5" width="216" height="2.4" fill="#eef0f3" stroke="#777" stroke-width="0.7"/>
<rect x="752.2" y="222.7" width="205.6" height="33.2" fill="#d8dbe2" stroke="#555" stroke-width="1"/>
<line x1="753" y1="254.5" x2="957" y2="254.5" stroke="#444" stroke-width="1.6"/>
<rect x="757.8" y="225.8" width="30" height="24" fill="#bfc2c8" stroke="#666" stroke-width="0.9"/>
<path d="M759.3,249 V231.5 H764.3 V229 H766.3 V226.5 H779.3 V229 H781.3 V231.5 H786.3 V249 Z" fill="#fff" stroke="#777" stroke-width="0.7"/>
<rect x="759.0" y="226.5" width="4.5" height="2.8" fill="#fff"/><rect x="782.1" y="226.5" width="4.5" height="2.8" fill="#fff"/>
<rect x="790.6" y="225.8" width="30" height="24" fill="#bfc2c8" stroke="#666" stroke-width="0.9"/>
<path d="M792.1,249 V231.5 H797.1 V229 H799.1 V226.5 H812.1 V229 H814.1 V231.5 H819.1 V249 Z" fill="#fff" stroke="#777" stroke-width="0.7"/>
<rect x="791.8" y="226.5" width="4.5" height="2.8" fill="#fff"/><rect x="814.9" y="226.5" width="4.5" height="2.8" fill="#fff"/>
<rect x="823.4" y="225.8" width="30" height="24" fill="#bfc2c8" stroke="#666" stroke-width="0.9"/>
<path d="M824.9,249 V231.5 H829.9 V229 H831.9 V226.5 H844.9 V229 H846.9 V231.5 H851.9 V249 Z" fill="#fff" stroke="#777" stroke-width="0.7"/>
<rect x="824.6" y="226.5" width="4.5" height="2.8" fill="#fff"/><rect x="847.7" y="226.5" width="4.5" height="2.8" fill="#fff"/>
<rect x="856.2" y="225.8" width="30" height="24" fill="#bfc2c8" stroke="#666" stroke-width="0.9"/>
<path d="M857.7,249 V231.5 H862.7 V229 H864.7 V226.5 H877.7 V229 H879.7 V231.5 H884.7 V249 Z" fill="#fff" stroke="#777" stroke-width="0.7"/>
<rect x="857.4" y="226.5" width="4.5" height="2.8" fill="#fff"/><rect x="880.5" y="226.5" width="4.5" height="2.8" fill="#fff"/>
<rect x="889.0" y="225.8" width="30" height="24" fill="#bfc2c8" stroke="#666" stroke-width="0.9"/>
<path d="M890.5,249 V231.5 H895.5 V229 H897.5 V226.5 H910.5 V229 H912.5 V231.5 H917.5 V249 Z" fill="#fff" stroke="#777" stroke-width="0.7"/>
<rect x="890.2" y="226.5" width="4.5" height="2.8" fill="#fff"/><rect x="913.3" y="226.5" width="4.5" height="2.8" fill="#fff"/>
<rect x="921.8" y="225.8" width="30" height="24" fill="#bfc2c8" stroke="#666" stroke-width="0.9"/>
<path d="M923.3,249 V231.5 H928.3 V229 H930.3 V226.5 H943.3 V229 H945.3 V231.5 H950.3 V249 Z" fill="#fff" stroke="#777" stroke-width="0.7"/>
<rect x="923.0" y="226.5" width="4.5" height="2.8" fill="#fff"/><rect x="946.1" y="226.5" width="4.5" height="2.8" fill="#fff"/>
<rect x="844.3" y="298.2" width="52" height="31.5" fill="#fff" stroke="#000" stroke-width="2.4"/>
<line x1="870.4" y1="300" x2="870.4" y2="328" stroke="#888" stroke-width="1"/>
<rect x="845.8" y="324.5" width="49" height="3.6" fill="#b0b2b6"/>
<rect x="896.2" y="298.2" width="52" height="31.5" fill="#fff" stroke="#000" stroke-width="2.4"/>
<line x1="922.3" y1="300" x2="922.3" y2="328" stroke="#888" stroke-width="1"/>
<rect x="897.7" y="324.5" width="49" height="3.6" fill="#b0b2b6"/>
<rect x="948.5" y="301" width="3" height="27" fill="#888"/>
<rect x="773.5" y="341.2" width="53.3" height="49.2" fill="#c5cad6" stroke="#666" stroke-width="0.9"/>
<rect x="820.9" y="341.6" width="5.9" height="48.4" fill="#e4e6ea"/>
<path d="M820.9,341.6 V390 M822.6,342 V389 M824.4,342 V389 M826.8,341 V390" stroke="#666" stroke-width="0.7"/>
<path d="M823.5,378 Q825,385 823.5,389" stroke="#444" stroke-width="1" fill="none"/>
<circle cx="787.9" cy="367.5" r="3.6" fill="#fff" stroke="#555" stroke-width="0.9"/><path d="M784.6,366.8 A3.4,3.4 0 0 1 791.2,366.8 Z" fill="#9a9a9a"/>
<path d="M828.5,352 Q833,356 828.5,361" fill="#ddd" stroke="#777" stroke-width="0.7"/>
<path d="M828,357 H971.3 V409 Q971.3,412.5 968,412.5 H831 Q828,412.5 828,409 Z" fill="#c5cad6" stroke="#777" stroke-width="0.9"/>
<line x1="828" y1="393.5" x2="940" y2="393.5" stroke="#888" stroke-width="0.7"/>
<rect x="864.9" y="359" width="67.5" height="39.2" fill="none" stroke="#000" stroke-width="1.9"/>
<rect x="870.9" y="361.5" width="54.6" height="30.5" rx="3" fill="#fff" stroke="#666" stroke-width="0.9"/>
<path d="M873.9,361.5 H903.8 V392 H873.9 Q870.9,392 870.9,389 V364.5 Q870.9,361.5 873.9,361.5 Z" fill="#9c9c9c"/>
<rect x="641" y="394" width="46" height="75" fill="#eef0f3" stroke="#666" stroke-width="0.9"/>
<rect x="645.3" y="396.9" width="39.3" height="70.2" fill="#c5cad6" stroke="#777" stroke-width="0.8"/>
<path d="M650.5,423.1 V406.2 H660 V399.7 H669.3 V406.2 H678.6 V423.1 Z" fill="#fff" stroke="#666" stroke-width="0.9"/>
<rect x="650.5" y="430.2" width="28.1" height="12.2" fill="#fff" stroke="#666" stroke-width="0.9"/>
<rect x="653" y="433.6" width="23" height="2.2" fill="#ddd" stroke="#777" stroke-width="0.6"/>
<rect x="650.5" y="451.2" width="28.1" height="12.2" fill="#fff" stroke="#666" stroke-width="0.9"/>
<rect x="653" y="454.6" width="23" height="2.2" fill="#ddd" stroke="#777" stroke-width="0.6"/>
<path d="M692.0,431 V425 Q692.0,421.8 695.6,421.8 Q699.2,421.8 699.2,425 V431 Z" fill="#fff" stroke="#777" stroke-width="0.8"/><path d="M696.8,425 V431" stroke="#666" stroke-width="0.8"/>
<path d="M715.3,431 V425 Q715.3,421.8 718.9,421.8 Q722.5,421.8 722.5,425 V431 Z" fill="#fff" stroke="#777" stroke-width="0.8"/><path d="M720.1,425 V431" stroke="#666" stroke-width="0.8"/>
<path d="M738.6,431 V425 Q738.6,421.8 742.2,421.8 Q745.8,421.8 745.8,425 V431 Z" fill="#fff" stroke="#777" stroke-width="0.8"/><path d="M743.4,425 V431" stroke="#666" stroke-width="0.8"/>
<path d="M761.9,431 V425 Q761.9,421.8 765.5,421.8 Q769.1,421.8 769.1,425 V431 Z" fill="#fff" stroke="#777" stroke-width="0.8"/><path d="M766.7,425 V431" stroke="#666" stroke-width="0.8"/>
<rect x="689.3" y="435.8" width="39" height="33.2" fill="#c5cad6" stroke="#666" stroke-width="0.9"/>
<line x1="690.3" y1="468" x2="727.3" y2="468" stroke="#444" stroke-width="1.6"/>
<path d="M694.6,459.6 V442.8 H703.9 V437.2 H713.3 V442.8 H722.6 V459.6 Z" fill="#fff" stroke="#666" stroke-width="0.9"/>
<rect x="732.4" y="435.8" width="39" height="33.2" fill="#c5cad6" stroke="#666" stroke-width="0.9"/>
<line x1="733.4" y1="468" x2="770.4" y2="468" stroke="#444" stroke-width="1.6"/>
<path d="M738.0,459.6 V442.8 H747.3 V437.2 H756.7 V442.8 H766.0 V459.6 Z" fill="#fff" stroke="#666" stroke-width="0.9"/>
<path d="M782.8,449.9 H840.8 A8.2,8.2 0 0 1 840.8,466.3 H782.8 A8.2,8.2 0 0 1 782.8,449.9 Z" fill="#f2f3f5" stroke="#8a8a8a" stroke-width="0.9"/>
<path d="M794.5,445.3 H830.4 Q835,445.3 834.4,450 L831.6,467.5 Q831,471.6 827,471.6 H798 Q794,471.6 793.4,467.5 L790.6,450 Q790,445.3 794.5,445.3 Z" fill="#cfd0d3" stroke="#777" stroke-width="0.9"/>
<path d="M797,449.4 H828 Q831.6,449.4 831.1,452.6 L829,465.3 Q828.5,468.3 825.3,468.3 H799.7 Q796.5,468.3 796,465.3 L793.9,452.6 Q793.4,449.4 797,449.4 Z" fill="#fff" stroke="#888" stroke-width="0.7"/>
<circle cx="783.2" cy="459.1" r="3.3" fill="#fff" stroke="#777" stroke-width="0.9"/><path d="M783.2,455.8 A3.3,3.3 0 0 0 783.2,462.4 Z" fill="#999"/>
<circle cx="842.1" cy="459.1" r="3.4" fill="#fff" stroke="#777" stroke-width="0.9"/>
<g fill="#6a6a6a"><circle cx="799.6" cy="455.8" r="1.2"/><circle cx="806.2" cy="455.8" r="1.2"/><circle cx="812.8" cy="455.8" r="1.2"/><circle cx="819.3" cy="455.8" r="1.2"/><circle cx="825.9" cy="455.8" r="1.2"/><circle cx="802.9" cy="462.6" r="1.2"/><circle cx="809.5" cy="462.6" r="1.2"/><circle cx="816.1" cy="462.6" r="1.2"/><circle cx="822.6" cy="462.6" r="1.2"/></g>
<path d="M862.7,449.9 H920.7 A8.55,8.55 0 0 1 920.7,467 H862.7 A8.55,8.55 0 0 1 862.7,449.9 Z" fill="#f2f3f5" stroke="#8a8a8a" stroke-width="0.9"/>
<path d="M871,451 Q874,444.5 880,444.5 H906 Q912,444.5 915,451 L914,468 Q913,473 908,473 H878 Q873,473 872,468 Z" fill="#f2f3f5" stroke="#8a8a8a" stroke-width="0.8"/>
<path d="M877.5,448.6 H908.6 Q912.6,448.6 912,452.5 L909.8,467 Q909.3,470.9 905.5,470.9 H880.6 Q876.8,470.9 876.3,467 L874.1,452.5 Q873.5,448.6 877.5,448.6 Z" fill="#fff" stroke="#333" stroke-width="1.7"/>
<path d="M879,451 H907 Q909.6,451 909.2,453.6 L907.4,465.6 Q907,468.4 904.4,468.4 H881.6 Q879,468.4 878.6,465.6 L876.8,453.6 Q876.4,451 879,451 Z" fill="none" stroke="#888" stroke-width="0.6"/>
<circle cx="862.8" cy="458.4" r="4.2" fill="#fff" stroke="#222" stroke-width="1.8"/>
<circle cx="922.6" cy="458.4" r="4.2" fill="#fff" stroke="#222" stroke-width="1.8"/>
<g fill="none" stroke="#666" stroke-width="0.7"><circle cx="882.0" cy="453.8" r="1.25"/><circle cx="887.2" cy="453.8" r="1.25"/><circle cx="892.4" cy="453.8" r="1.25"/><circle cx="897.6" cy="453.8" r="1.25"/><circle cx="902.8" cy="453.8" r="1.25"/><circle cx="882.8" cy="458.9" r="1.25"/><circle cx="888.0" cy="458.9" r="1.25"/><circle cx="893.2" cy="458.9" r="1.25"/><circle cx="898.4" cy="458.9" r="1.25"/><circle cx="903.6" cy="458.9" r="1.25"/><circle cx="883.6" cy="464.0" r="1.25"/><circle cx="888.8" cy="464.0" r="1.25"/><circle cx="894.0" cy="464.0" r="1.25"/><circle cx="899.2" cy="464.0" r="1.25"/><circle cx="904.4" cy="464.0" r="1.25"/></g>
<rect x="80.0" y="21.0" width="69.0" height="40.7" fill="#fff" stroke="#000" stroke-width="1.6"/>
<text transform="translate(113.4,51.0) scale(0.955,1)" text-anchor="middle">15</text>
<rect x="98.90" y="47.85" width="5.64" height="4.2" fill="#fff"/>
<rect x="107.24" y="47.85" width="5.41" height="4.2" fill="#fff"/>
<rect x="162.0" y="21.0" width="69.5" height="40.7" fill="#fff" stroke="#000" stroke-width="1.6"/>
<text transform="translate(195.7,51.0) scale(0.955,1)" text-anchor="middle">16</text>
<rect x="181.15" y="47.85" width="5.64" height="4.2" fill="#fff"/>
<rect x="189.49" y="47.85" width="5.41" height="4.2" fill="#fff"/>
<rect x="266.5" y="21.0" width="69.0" height="40.7" fill="#fff" stroke="#000" stroke-width="1.6"/>
<text transform="translate(299.9,51.0) scale(0.955,1)" text-anchor="middle">15</text>
<rect x="285.40" y="47.85" width="5.64" height="4.2" fill="#fff"/>
<rect x="293.74" y="47.85" width="5.41" height="4.2" fill="#fff"/>
<rect x="349.0" y="21.0" width="69.0" height="40.7" fill="#fff" stroke="#000" stroke-width="1.6"/>
<text transform="translate(382.4,51.0) scale(0.955,1)" text-anchor="middle">16</text>
<rect x="367.90" y="47.85" width="5.64" height="4.2" fill="#fff"/>
<rect x="376.24" y="47.85" width="5.41" height="4.2" fill="#fff"/>
<rect x="462.0" y="21.0" width="82.0" height="40.7" fill="#fff" stroke="#000" stroke-width="1.6"/>
<text transform="translate(501.9,51.0) scale(0.955,1)" text-anchor="middle">21b</text>
<rect x="495.37" y="47.85" width="5.64" height="4.2" fill="#fff"/>
<rect x="503.70" y="47.85" width="5.41" height="4.2" fill="#fff"/>
<rect x="559.5" y="21.0" width="81.0" height="40.7" fill="#fff" stroke="#000" stroke-width="1.6"/>
<text transform="translate(598.9,51.0) scale(0.955,1)" text-anchor="middle">21a</text>
<rect x="592.37" y="47.85" width="5.64" height="4.2" fill="#fff"/>
<rect x="600.70" y="47.85" width="5.41" height="4.2" fill="#fff"/>
<rect x="661.0" y="21.0" width="69.0" height="40.7" fill="#fff" stroke="#000" stroke-width="1.6"/>
<text transform="translate(694.4,51.0) scale(0.955,1)" text-anchor="middle">29</text>
<rect x="745.0" y="21.0" width="69.0" height="40.7" fill="#fff" stroke="#000" stroke-width="1.6"/>
<text transform="translate(778.4,51.0) scale(0.955,1)" text-anchor="middle">18</text>
<rect x="763.90" y="47.85" width="5.64" height="4.2" fill="#fff"/>
<rect x="772.24" y="47.85" width="5.41" height="4.2" fill="#fff"/>
<rect x="828.0" y="21.0" width="69.5" height="40.7" fill="#fff" stroke="#000" stroke-width="1.6"/>
<text transform="translate(861.6,51.0) scale(0.955,1)" text-anchor="middle">19</text>
<rect x="847.15" y="47.85" width="5.64" height="4.2" fill="#fff"/>
<rect x="855.49" y="47.85" width="5.41" height="4.2" fill="#fff"/>
<rect x="911.5" y="21.0" width="68.5" height="40.7" fill="#fff" stroke="#000" stroke-width="1.6"/>
<text transform="translate(944.6,51.0) scale(0.955,1)" text-anchor="middle">18</text>
<rect x="930.15" y="47.85" width="5.64" height="4.2" fill="#fff"/>
<rect x="938.49" y="47.85" width="5.41" height="4.2" fill="#fff"/>
<rect x="994.0" y="21.0" width="69.0" height="40.7" fill="#fff" stroke="#000" stroke-width="1.6"/>
<text transform="translate(1027.4,51.0) scale(0.955,1)" text-anchor="middle">19</text>
<rect x="1012.90" y="47.85" width="5.64" height="4.2" fill="#fff"/>
<rect x="1021.24" y="47.85" width="5.41" height="4.2" fill="#fff"/>
<rect x="1077.0" y="21.0" width="81.0" height="40.7" fill="#fff" stroke="#000" stroke-width="1.6"/>
<text transform="translate(1116.4,51.0) scale(0.955,1)" text-anchor="middle">20b</text>
<rect x="1172.5" y="21.0" width="80.5" height="40.7" fill="#fff" stroke="#000" stroke-width="1.6"/>
<text transform="translate(1211.7,51.0) scale(0.955,1)" text-anchor="middle">20a</text>
<rect x="1179.7" y="100.0" width="68.3" height="40.5" fill="#fff" stroke="#000" stroke-width="1.6"/>
<text transform="translate(1212.8,129.8) scale(0.955,1)" text-anchor="middle">17</text>
<rect x="1198.25" y="126.75" width="5.64" height="4.2" fill="#fff"/>
<rect x="1206.59" y="126.75" width="5.41" height="4.2" fill="#fff"/>
<rect x="1179.0" y="322.0" width="69.5" height="41.0" fill="#fff" stroke="#000" stroke-width="1.6"/>
<text transform="translate(1212.7,352.1) scale(0.955,1)" text-anchor="middle">22</text>
<rect x="2.8" y="269.7" width="69.0" height="40.9" fill="#fff" stroke="#000" stroke-width="1.6"/>
<text transform="translate(36.2,299.8) scale(0.955,1)" text-anchor="middle">28</text>
<rect x="254.0" y="568.3" width="68.7" height="40.5" fill="#fff" stroke="#000" stroke-width="1.6"/>
<text transform="translate(287.2,598.1) scale(0.955,1)" text-anchor="middle">32</text>
<rect x="520.0" y="568.3" width="69.0" height="40.5" fill="#fff" stroke="#000" stroke-width="1.6"/>
<text transform="translate(553.4,598.1) scale(0.955,1)" text-anchor="middle">27</text>
<rect x="621.0" y="568.3" width="69.0" height="40.5" fill="#fff" stroke="#000" stroke-width="1.6"/>
<text transform="translate(654.4,598.1) scale(0.955,1)" text-anchor="middle">31</text>
<rect x="655.83" y="595.05" width="5.64" height="4.2" fill="#fff"/>
<rect x="664.17" y="595.05" width="5.41" height="4.2" fill="#fff"/>
<rect x="731.0" y="568.3" width="69.0" height="40.5" fill="#fff" stroke="#000" stroke-width="1.6"/>
<text transform="translate(764.4,598.1) scale(0.955,1)" text-anchor="middle">24</text>
<rect x="857.5" y="568.3" width="69.0" height="40.5" fill="#fff" stroke="#000" stroke-width="1.6"/>
<text transform="translate(890.9,598.1) scale(0.955,1)" text-anchor="middle">23</text>
<rect x="967.2" y="568.3" width="68.6" height="40.5" fill="#fff" stroke="#000" stroke-width="1.6"/>
<text transform="translate(1000.4,598.1) scale(0.955,1)" text-anchor="middle">30</text>
<g stroke="#000" stroke-width="4.1" stroke-linecap="round" fill="none"><line x1="118.3" y1="61.0" x2="157.2" y2="242.5"/><line x1="201.3" y1="61.0" x2="245.2" y2="236.8"/><line x1="308.8" y1="61.0" x2="385.9" y2="232.2"/><line x1="393.0" y1="61.0" x2="479.6" y2="234.0"/><line x1="512.5" y1="61.0" x2="634.0" y2="294.0"/><line x1="602.5" y1="61.0" x2="634.0" y2="239.7"/><line x1="698.0" y1="61.0" x2="727.5" y2="252.9"/><line x1="778.0" y1="61.0" x2="772.8" y2="239.6"/><line x1="856.5" y1="61.0" x2="804.0" y2="240.3"/><line x1="935.5" y1="61.0" x2="842.0" y2="240.3"/><line x1="1013.0" y1="61.0" x2="871.2" y2="241.5"/><line x1="1096.7" y1="61.0" x2="905.3" y2="240.3"/><line x1="1186.7" y1="61.0" x2="939.6" y2="240.3"/><line x1="1179.7" y1="139.5" x2="896.2" y2="298.2"/><line x1="1117.0" y1="347.0" x2="1179.0" y2="347.0"/><line x1="70.3" y1="297.5" x2="421.0" y2="369.5"/><line x1="70.3" y1="305.4" x2="216.2" y2="371.8"/><line x1="263.7" y1="568.0" x2="144.5" y2="475.5"/><line x1="277.0" y1="568.0" x2="218.7" y2="473.0"/><line x1="289.0" y1="568.0" x2="289.8" y2="478.0"/><line x1="302.0" y1="568.0" x2="361.6" y2="477.5"/><line x1="314.0" y1="568.0" x2="433.7" y2="473.0"/><line x1="566.0" y1="568.0" x2="665.0" y2="413.4"/><line x1="670.0" y1="568.0" x2="753.0" y2="452.2"/><line x1="772.5" y1="568.0" x2="812.5" y2="456.8"/><line x1="892.0" y1="568.0" x2="896.4" y2="459.6"/><line x1="991.6" y1="568.0" x2="908.0" y2="398.0"/><line x1="995.3" y1="568.0" x2="925.9" y2="328.7"/></g>
</svg></body></html>
